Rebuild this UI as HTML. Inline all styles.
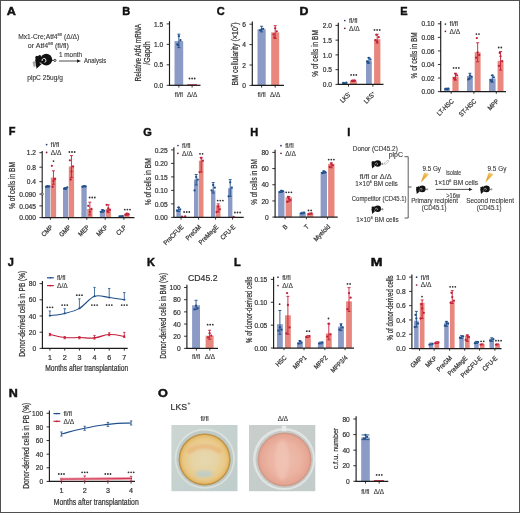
<!DOCTYPE html>
<html><head><meta charset="utf-8"><style>
html,body{margin:0;padding:0;background:#fff;}
svg{display:block;font-family:"Liberation Sans", sans-serif;will-change:transform;}
</style></head><body>
<svg width="520" height="513" viewBox="0 0 520 513">
<rect x="0.5" y="0.5" width="519" height="512" fill="#fff" stroke="#505050" stroke-width="1"/>
<text x="6.80" y="15.00" font-size="11" font-weight="bold" fill="#111" stroke="#111" stroke-width="0.45" transform="translate(6.80 0) scale(1.15 1) translate(-6.80 0)">A</text>
<text x="122.30" y="15.00" font-size="11" font-weight="bold" fill="#111" stroke="#111" stroke-width="0.45">B</text>
<text x="216.80" y="15.00" font-size="11" font-weight="bold" fill="#111" stroke="#111" stroke-width="0.45">C</text>
<text x="299.60" y="15.00" font-size="11" font-weight="bold" fill="#111" stroke="#111" stroke-width="0.45" transform="translate(299.60 0) scale(1.12 1) translate(-299.60 0)">D</text>
<text x="400.20" y="15.00" font-size="11" font-weight="bold" fill="#111" stroke="#111" stroke-width="0.45">E</text>
<text x="8.80" y="135.30" font-size="11" font-weight="bold" fill="#111" stroke="#111" stroke-width="0.45">F</text>
<text x="143.30" y="135.50" font-size="11" font-weight="bold" fill="#111" stroke="#111" stroke-width="0.45">G</text>
<text x="250.30" y="135.50" font-size="11" font-weight="bold" fill="#111" stroke="#111" stroke-width="0.45">H</text>
<text x="347.20" y="135.50" font-size="11" font-weight="bold" fill="#111" stroke="#111" stroke-width="0.45">I</text>
<text x="7.80" y="266.00" font-size="11" font-weight="bold" fill="#111" stroke="#111" stroke-width="0.45">J</text>
<text x="147.00" y="266.00" font-size="11" font-weight="bold" fill="#111" stroke="#111" stroke-width="0.45">K</text>
<text x="234.00" y="266.00" font-size="11" font-weight="bold" fill="#111" stroke="#111" stroke-width="0.45">L</text>
<text x="370.80" y="266.00" font-size="11" font-weight="bold" fill="#111" stroke="#111" stroke-width="0.45" transform="translate(370.80 0) scale(1.28 1) translate(-370.80 0)">M</text>
<text x="8.80" y="397.50" font-size="11" font-weight="bold" fill="#111" stroke="#111" stroke-width="0.45" transform="translate(8.80 0) scale(1.14 1) translate(-8.80 0)">N</text>
<text x="158.00" y="397.50" font-size="11" font-weight="bold" fill="#111" stroke="#111" stroke-width="0.45" transform="translate(158.00 0) scale(1.15 1) translate(-158.00 0)">O</text>
<text x="18.2" y="39.3" font-size="6.8" fill="#333333" stroke="#333333" stroke-width="0.1" textLength="61" lengthAdjust="spacingAndGlyphs">Mx1-Cre;Atf4<tspan font-size="3.6" dy="-2.9">fl/fl</tspan><tspan dy="2.9"> (Δ/Δ)</tspan></text>
<text x="27.8" y="47.6" font-size="6.8" fill="#333333" stroke="#333333" stroke-width="0.1" textLength="41" lengthAdjust="spacingAndGlyphs">or Atf4<tspan font-size="3.6" dy="-2.9">fl/fl</tspan><tspan dy="2.9"> (fl/fl)</tspan></text>
<g transform="translate(46.30 59.80) scale(1.0)"><path d="M-13.8 2.2 L-11.4 1.2 L-10.4 6.4 L-12.6 7.2 Z" fill="#a8a8a8"/><circle cx="0" cy="-0.2" r="5.9" fill="#111"/><ellipse cx="-7.6" cy="0.5" rx="3.4" ry="4.1" fill="#111"/><circle cx="-9.4" cy="-2.6" r="1.5" fill="#111"/><circle cx="-6.6" cy="-3.2" r="1.5" fill="#111"/><path d="M-10.8 2.3 L-3.8 3.4 L-9.8 8.9 Z" fill="#111"/><path d="M-4.2 1.2 A2.0 2.0 0 1 1 -1.8 2.6" stroke="#fff" stroke-width="0.9" fill="none"/><path d="M-6.6 3.0 L-4.8 3.8" stroke="#fff" stroke-width="0.8"/><path d="M5.4 0.6 L7.5 0.6" stroke="#111" stroke-width="0.9"/><circle cx="8.6" cy="0.6" r="1.1" fill="#fff" stroke="#111" stroke-width="0.8"/></g>
<text x="59.00" y="57.20" font-size="6.8" fill="#333333" stroke="#333333" stroke-width="0.11" textLength="23" lengthAdjust="spacingAndGlyphs">1 month</text>
<line x1="59.00" y1="61.00" x2="78.00" y2="61.00" stroke="#222" stroke-width="0.8"/>
<path d="M77 59.3 L81 61 L77 62.7 Z" fill="#222"/>
<text x="84.00" y="63.40" font-size="6.8" fill="#333333" stroke="#333333" stroke-width="0.11" textLength="22.2" lengthAdjust="spacingAndGlyphs">Analysis</text>
<text x="27.30" y="79.50" font-size="6.8" fill="#333333" stroke="#333333" stroke-width="0.11" textLength="35.6" lengthAdjust="spacingAndGlyphs">plpC 25ug/g</text>
<line x1="169.50" y1="21.20" x2="169.50" y2="85.80" stroke="#1c1c1c" stroke-width="1.15"/>
<line x1="166.70" y1="85.30" x2="169.50" y2="85.30" stroke="#1c1c1c" stroke-width="0.9"/>
<text x="163.20" y="87.96" font-size="7.4" fill="#333333" stroke="#333333" stroke-width="0.22" text-anchor="end" transform="translate(163.20 0) scale(0.9 1) translate(-163.20 0)">0.0</text>
<line x1="166.70" y1="64.83" x2="169.50" y2="64.83" stroke="#1c1c1c" stroke-width="0.9"/>
<text x="163.20" y="67.50" font-size="7.4" fill="#333333" stroke="#333333" stroke-width="0.22" text-anchor="end" transform="translate(163.20 0) scale(0.9 1) translate(-163.20 0)">0.5</text>
<line x1="166.70" y1="44.37" x2="169.50" y2="44.37" stroke="#1c1c1c" stroke-width="0.9"/>
<text x="163.20" y="47.03" font-size="7.4" fill="#333333" stroke="#333333" stroke-width="0.22" text-anchor="end" transform="translate(163.20 0) scale(0.9 1) translate(-163.20 0)">1.0</text>
<line x1="166.70" y1="23.90" x2="169.50" y2="23.90" stroke="#1c1c1c" stroke-width="0.9"/>
<text x="163.20" y="26.56" font-size="7.4" fill="#333333" stroke="#333333" stroke-width="0.22" text-anchor="end" transform="translate(163.20 0) scale(0.9 1) translate(-163.20 0)">1.5</text>
<rect x="174.50" y="41.09" width="8.70" height="44.21" fill="#8b9bc6"/>
<line x1="178.85" y1="47.64" x2="178.85" y2="34.13" stroke="#1f4f8b" stroke-width="0.9"/>
<line x1="177.35" y1="34.13" x2="180.35" y2="34.13" stroke="#1f4f8b" stroke-width="0.9"/>
<line x1="177.35" y1="47.64" x2="180.35" y2="47.64" stroke="#1f4f8b" stroke-width="0.9"/>
<circle cx="177.25" cy="44.37" r="1.15" fill="#1f4f8b"/>
<circle cx="180.45" cy="40.27" r="1.15" fill="#1f4f8b"/>
<circle cx="178.85" cy="36.18" r="1.15" fill="#1f4f8b"/>
<circle cx="178.05" cy="45.19" r="1.15" fill="#1f4f8b"/>
<rect x="187.20" y="84.28" width="9.80" height="1.02" fill="#c41e3a"/>
<line x1="169.00" y1="85.30" x2="200.50" y2="85.30" stroke="#1c1c1c" stroke-width="1.25"/>
<line x1="178.85" y1="85.30" x2="178.85" y2="87.50" stroke="#1c1c1c" stroke-width="0.9"/>
<line x1="192.10" y1="85.30" x2="192.10" y2="87.50" stroke="#1c1c1c" stroke-width="0.9"/>
<circle cx="189.50" cy="78.50" r="0.9" fill="#333"/>
<circle cx="192.10" cy="78.50" r="0.9" fill="#333"/>
<circle cx="194.70" cy="78.50" r="0.9" fill="#333"/>
<text x="178.85" y="96.70" font-size="6.4" fill="#333333" stroke="#333333" stroke-width="0.11" text-anchor="middle">fl/fl</text>
<text x="192.10" y="96.70" font-size="6.4" fill="#333333" stroke="#333333" stroke-width="0.11" text-anchor="middle">Δ/Δ</text>
<text x="140.59" y="52.70" font-size="8.3" fill="#333333" stroke="#333333" stroke-width="0.22" text-anchor="middle" textLength="57.5" lengthAdjust="spacingAndGlyphs" transform="rotate(-90 140.59 52.70)">Relative Atf4 mRNA</text>
<text x="149.99" y="53.10" font-size="8.3" fill="#333333" stroke="#333333" stroke-width="0.22" text-anchor="middle" textLength="23.5" lengthAdjust="spacingAndGlyphs" transform="rotate(-90 149.99 53.10)">/Gapdh</text>
<line x1="252.30" y1="21.50" x2="252.30" y2="85.90" stroke="#1c1c1c" stroke-width="1.15"/>
<line x1="249.50" y1="85.40" x2="252.30" y2="85.40" stroke="#1c1c1c" stroke-width="0.9"/>
<text x="246.00" y="88.06" font-size="7.4" fill="#333333" stroke="#333333" stroke-width="0.22" text-anchor="end" transform="translate(246.00 0) scale(0.9 1) translate(-246.00 0)">0</text>
<line x1="249.50" y1="65.00" x2="252.30" y2="65.00" stroke="#1c1c1c" stroke-width="0.9"/>
<text x="246.00" y="67.66" font-size="7.4" fill="#333333" stroke="#333333" stroke-width="0.22" text-anchor="end" transform="translate(246.00 0) scale(0.9 1) translate(-246.00 0)">2</text>
<line x1="249.50" y1="44.60" x2="252.30" y2="44.60" stroke="#1c1c1c" stroke-width="0.9"/>
<text x="246.00" y="47.26" font-size="7.4" fill="#333333" stroke="#333333" stroke-width="0.22" text-anchor="end" transform="translate(246.00 0) scale(0.9 1) translate(-246.00 0)">4</text>
<line x1="249.50" y1="24.20" x2="252.30" y2="24.20" stroke="#1c1c1c" stroke-width="0.9"/>
<text x="246.00" y="26.86" font-size="7.4" fill="#333333" stroke="#333333" stroke-width="0.22" text-anchor="end" transform="translate(246.00 0) scale(0.9 1) translate(-246.00 0)">6</text>
<rect x="257.50" y="29.30" width="8.20" height="56.10" fill="#8b9bc6"/>
<line x1="261.60" y1="31.85" x2="261.60" y2="26.24" stroke="#1f4f8b" stroke-width="0.9"/>
<line x1="260.10" y1="26.24" x2="263.10" y2="26.24" stroke="#1f4f8b" stroke-width="0.9"/>
<line x1="260.10" y1="31.85" x2="263.10" y2="31.85" stroke="#1f4f8b" stroke-width="0.9"/>
<circle cx="260.00" cy="30.32" r="1.15" fill="#1f4f8b"/>
<circle cx="263.20" cy="28.79" r="1.15" fill="#1f4f8b"/>
<circle cx="261.60" cy="29.30" r="1.15" fill="#1f4f8b"/>
<rect x="271.20" y="32.36" width="8.00" height="53.04" fill="#e8877d"/>
<line x1="275.20" y1="38.48" x2="275.20" y2="25.73" stroke="#c41e3a" stroke-width="0.9"/>
<line x1="273.70" y1="25.73" x2="276.70" y2="25.73" stroke="#c41e3a" stroke-width="0.9"/>
<line x1="273.70" y1="38.48" x2="276.70" y2="38.48" stroke="#c41e3a" stroke-width="0.9"/>
<circle cx="273.60" cy="34.40" r="1.15" fill="#c41e3a"/>
<circle cx="276.80" cy="31.34" r="1.15" fill="#c41e3a"/>
<circle cx="275.20" cy="28.28" r="1.15" fill="#c41e3a"/>
<circle cx="274.40" cy="37.46" r="1.15" fill="#c41e3a"/>
<line x1="251.80" y1="85.40" x2="284.00" y2="85.40" stroke="#1c1c1c" stroke-width="1.25"/>
<line x1="261.60" y1="85.40" x2="261.60" y2="87.60" stroke="#1c1c1c" stroke-width="0.9"/>
<line x1="275.20" y1="85.40" x2="275.20" y2="87.60" stroke="#1c1c1c" stroke-width="0.9"/>
<text x="261.60" y="96.70" font-size="6.4" fill="#333333" stroke="#333333" stroke-width="0.11" text-anchor="middle">fl/fl</text>
<text x="275.20" y="96.70" font-size="6.4" fill="#333333" stroke="#333333" stroke-width="0.11" text-anchor="middle">Δ/Δ</text>
<text x="238.29" y="54.0" font-size="8.3" fill="#333333" stroke="#333333" stroke-width="0.22" text-anchor="middle" textLength="63" lengthAdjust="spacingAndGlyphs" transform="rotate(-90 238.29 54.0)">BM cellularity (×10<tspan font-size="4.8" dy="-3">7</tspan><tspan dy="3">)</tspan></text>
<line x1="338.30" y1="22.70" x2="338.30" y2="84.90" stroke="#1c1c1c" stroke-width="1.15"/>
<line x1="335.50" y1="84.40" x2="338.30" y2="84.40" stroke="#1c1c1c" stroke-width="0.9"/>
<text x="332.00" y="87.06" font-size="7.4" fill="#333333" stroke="#333333" stroke-width="0.22" text-anchor="end" transform="translate(332.00 0) scale(0.9 1) translate(-332.00 0)">0.0</text>
<line x1="335.50" y1="69.65" x2="338.30" y2="69.65" stroke="#1c1c1c" stroke-width="0.9"/>
<text x="332.00" y="72.31" font-size="7.4" fill="#333333" stroke="#333333" stroke-width="0.22" text-anchor="end" transform="translate(332.00 0) scale(0.9 1) translate(-332.00 0)">0.5</text>
<line x1="335.50" y1="54.90" x2="338.30" y2="54.90" stroke="#1c1c1c" stroke-width="0.9"/>
<text x="332.00" y="57.56" font-size="7.4" fill="#333333" stroke="#333333" stroke-width="0.22" text-anchor="end" transform="translate(332.00 0) scale(0.9 1) translate(-332.00 0)">1.0</text>
<line x1="335.50" y1="40.15" x2="338.30" y2="40.15" stroke="#1c1c1c" stroke-width="0.9"/>
<text x="332.00" y="42.81" font-size="7.4" fill="#333333" stroke="#333333" stroke-width="0.22" text-anchor="end" transform="translate(332.00 0) scale(0.9 1) translate(-332.00 0)">1.5</text>
<line x1="335.50" y1="25.40" x2="338.30" y2="25.40" stroke="#1c1c1c" stroke-width="0.9"/>
<text x="332.00" y="28.06" font-size="7.4" fill="#333333" stroke="#333333" stroke-width="0.22" text-anchor="end" transform="translate(332.00 0) scale(0.9 1) translate(-332.00 0)">2.0</text>
<rect x="342.00" y="82.93" width="5.60" height="1.47" fill="#8b9bc6"/>
<circle cx="343.20" cy="82.93" r="1.15" fill="#1f4f8b"/>
<circle cx="346.40" cy="82.63" r="1.15" fill="#1f4f8b"/>
<circle cx="344.80" cy="83.22" r="1.15" fill="#1f4f8b"/>
<rect x="350.00" y="80.86" width="6.80" height="3.54" fill="#e8877d"/>
<line x1="353.40" y1="81.45" x2="353.40" y2="79.98" stroke="#c41e3a" stroke-width="0.9"/>
<line x1="351.90" y1="79.98" x2="354.90" y2="79.98" stroke="#c41e3a" stroke-width="0.9"/>
<line x1="351.90" y1="81.45" x2="354.90" y2="81.45" stroke="#c41e3a" stroke-width="0.9"/>
<circle cx="351.80" cy="80.86" r="1.15" fill="#c41e3a"/>
<circle cx="355.00" cy="80.57" r="1.15" fill="#c41e3a"/>
<circle cx="353.40" cy="81.16" r="1.15" fill="#c41e3a"/>
<rect x="366.00" y="60.51" width="5.80" height="23.90" fill="#8b9bc6"/>
<line x1="368.90" y1="63.16" x2="368.90" y2="57.85" stroke="#1f4f8b" stroke-width="0.9"/>
<line x1="367.40" y1="57.85" x2="370.40" y2="57.85" stroke="#1f4f8b" stroke-width="0.9"/>
<line x1="367.40" y1="63.16" x2="370.40" y2="63.16" stroke="#1f4f8b" stroke-width="0.9"/>
<circle cx="367.20" cy="61.39" r="1.15" fill="#1f4f8b"/>
<circle cx="370.40" cy="59.33" r="1.15" fill="#1f4f8b"/>
<circle cx="368.80" cy="57.85" r="1.15" fill="#1f4f8b"/>
<circle cx="368.00" cy="62.87" r="1.15" fill="#1f4f8b"/>
<rect x="374.10" y="39.27" width="6.30" height="45.14" fill="#e8877d"/>
<line x1="377.20" y1="43.10" x2="377.20" y2="34.25" stroke="#c41e3a" stroke-width="0.9"/>
<line x1="375.70" y1="34.25" x2="378.70" y2="34.25" stroke="#c41e3a" stroke-width="0.9"/>
<line x1="375.70" y1="43.10" x2="378.70" y2="43.10" stroke="#c41e3a" stroke-width="0.9"/>
<circle cx="375.50" cy="40.15" r="1.15" fill="#c41e3a"/>
<circle cx="378.70" cy="37.20" r="1.15" fill="#c41e3a"/>
<circle cx="377.10" cy="41.62" r="1.15" fill="#c41e3a"/>
<circle cx="376.30" cy="34.84" r="1.15" fill="#c41e3a"/>
<line x1="337.80" y1="84.40" x2="383.50" y2="84.40" stroke="#1c1c1c" stroke-width="1.25"/>
<line x1="348.50" y1="84.40" x2="348.50" y2="86.60" stroke="#1c1c1c" stroke-width="0.9"/>
<line x1="372.90" y1="84.40" x2="372.90" y2="86.60" stroke="#1c1c1c" stroke-width="0.9"/>
<circle cx="351.10" cy="74.90" r="0.9" fill="#333"/>
<circle cx="353.70" cy="74.90" r="0.9" fill="#333"/>
<circle cx="356.30" cy="74.90" r="0.9" fill="#333"/>
<circle cx="374.50" cy="29.90" r="0.9" fill="#333"/>
<circle cx="377.10" cy="29.90" r="0.9" fill="#333"/>
<circle cx="379.70" cy="29.90" r="0.9" fill="#333"/>
<circle cx="344.80" cy="20.50" r="0.85" fill="#1d3a62"/>
<text x="349.00" y="22.88" font-size="6.6" fill="#333333" stroke="#333333" stroke-width="0.11">fl/fl</text>
<circle cx="344.80" cy="28.30" r="0.85" fill="#7a1a2c"/>
<text x="349.00" y="30.68" font-size="6.6" fill="#333333" stroke="#333333" stroke-width="0.11">Δ/Δ</text>
<text x="351.50" y="94.50" font-size="6.6" fill="#333333" stroke="#333333" stroke-width="0.22" text-anchor="end" transform="rotate(-45 351.50 94.50) translate(351.50 0) scale(0.9 1) translate(-351.50 0)">LKS<tspan font-size="4" dy="-2.5">-</tspan></text>
<text x="375.90" y="94.50" font-size="6.6" fill="#333333" stroke="#333333" stroke-width="0.22" text-anchor="end" transform="rotate(-45 375.90 94.50) translate(375.90 0) scale(0.9 1) translate(-375.90 0)">LKS<tspan font-size="4" dy="-2.5">+</tspan></text>
<text x="318.49" y="53.40" font-size="8.3" fill="#333333" stroke="#333333" stroke-width="0.22" text-anchor="middle" textLength="46.5" lengthAdjust="spacingAndGlyphs" transform="rotate(-90 318.49 53.40)">% of cells in BM</text>
<line x1="440.70" y1="21.10" x2="440.70" y2="92.10" stroke="#1c1c1c" stroke-width="1.15"/>
<line x1="437.90" y1="91.60" x2="440.70" y2="91.60" stroke="#1c1c1c" stroke-width="0.9"/>
<text x="434.40" y="94.26" font-size="7.4" fill="#333333" stroke="#333333" stroke-width="0.22" text-anchor="end" transform="translate(434.40 0) scale(0.9 1) translate(-434.40 0)">0.00</text>
<line x1="437.90" y1="78.04" x2="440.70" y2="78.04" stroke="#1c1c1c" stroke-width="0.9"/>
<text x="434.40" y="80.70" font-size="7.4" fill="#333333" stroke="#333333" stroke-width="0.22" text-anchor="end" transform="translate(434.40 0) scale(0.9 1) translate(-434.40 0)">0.02</text>
<line x1="437.90" y1="64.48" x2="440.70" y2="64.48" stroke="#1c1c1c" stroke-width="0.9"/>
<text x="434.40" y="67.14" font-size="7.4" fill="#333333" stroke="#333333" stroke-width="0.22" text-anchor="end" transform="translate(434.40 0) scale(0.9 1) translate(-434.40 0)">0.04</text>
<line x1="437.90" y1="50.92" x2="440.70" y2="50.92" stroke="#1c1c1c" stroke-width="0.9"/>
<text x="434.40" y="53.58" font-size="7.4" fill="#333333" stroke="#333333" stroke-width="0.22" text-anchor="end" transform="translate(434.40 0) scale(0.9 1) translate(-434.40 0)">0.06</text>
<line x1="437.90" y1="37.36" x2="440.70" y2="37.36" stroke="#1c1c1c" stroke-width="0.9"/>
<text x="434.40" y="40.02" font-size="7.4" fill="#333333" stroke="#333333" stroke-width="0.22" text-anchor="end" transform="translate(434.40 0) scale(0.9 1) translate(-434.40 0)">0.08</text>
<line x1="437.90" y1="23.80" x2="440.70" y2="23.80" stroke="#1c1c1c" stroke-width="0.9"/>
<text x="434.40" y="26.46" font-size="7.4" fill="#333333" stroke="#333333" stroke-width="0.22" text-anchor="end" transform="translate(434.40 0) scale(0.9 1) translate(-434.40 0)">0.10</text>
<rect x="444.00" y="88.89" width="5.80" height="2.71" fill="#8b9bc6"/>
<line x1="446.90" y1="89.57" x2="446.90" y2="88.21" stroke="#1f4f8b" stroke-width="0.9"/>
<line x1="445.40" y1="88.21" x2="448.40" y2="88.21" stroke="#1f4f8b" stroke-width="0.9"/>
<line x1="445.40" y1="89.57" x2="448.40" y2="89.57" stroke="#1f4f8b" stroke-width="0.9"/>
<circle cx="445.30" cy="88.89" r="1.15" fill="#1f4f8b"/>
<circle cx="448.50" cy="88.55" r="1.15" fill="#1f4f8b"/>
<circle cx="446.90" cy="89.23" r="1.15" fill="#1f4f8b"/>
<rect x="452.40" y="76.68" width="6.20" height="14.92" fill="#e8877d"/>
<line x1="455.50" y1="80.07" x2="455.50" y2="73.29" stroke="#c41e3a" stroke-width="0.9"/>
<line x1="454.00" y1="73.29" x2="457.00" y2="73.29" stroke="#c41e3a" stroke-width="0.9"/>
<line x1="454.00" y1="80.07" x2="457.00" y2="80.07" stroke="#c41e3a" stroke-width="0.9"/>
<circle cx="453.90" cy="78.04" r="1.15" fill="#c41e3a"/>
<circle cx="457.10" cy="75.33" r="1.15" fill="#c41e3a"/>
<circle cx="455.50" cy="73.97" r="1.15" fill="#c41e3a"/>
<circle cx="454.70" cy="79.40" r="1.15" fill="#c41e3a"/>
<rect x="467.00" y="76.01" width="5.80" height="15.59" fill="#8b9bc6"/>
<line x1="469.90" y1="78.72" x2="469.90" y2="73.29" stroke="#1f4f8b" stroke-width="0.9"/>
<line x1="468.40" y1="73.29" x2="471.40" y2="73.29" stroke="#1f4f8b" stroke-width="0.9"/>
<line x1="468.40" y1="78.72" x2="471.40" y2="78.72" stroke="#1f4f8b" stroke-width="0.9"/>
<circle cx="468.30" cy="79.40" r="1.15" fill="#1f4f8b"/>
<circle cx="471.50" cy="76.68" r="1.15" fill="#1f4f8b"/>
<circle cx="469.90" cy="75.33" r="1.15" fill="#1f4f8b"/>
<circle cx="469.10" cy="78.72" r="1.15" fill="#1f4f8b"/>
<rect x="474.70" y="52.28" width="5.90" height="39.32" fill="#e8877d"/>
<line x1="477.65" y1="61.77" x2="477.65" y2="42.78" stroke="#c41e3a" stroke-width="0.9"/>
<line x1="476.15" y1="42.78" x2="479.15" y2="42.78" stroke="#c41e3a" stroke-width="0.9"/>
<line x1="476.15" y1="61.77" x2="479.15" y2="61.77" stroke="#c41e3a" stroke-width="0.9"/>
<circle cx="476.05" cy="57.70" r="1.15" fill="#c41e3a"/>
<circle cx="479.25" cy="54.99" r="1.15" fill="#c41e3a"/>
<circle cx="477.65" cy="52.28" r="1.15" fill="#c41e3a"/>
<circle cx="476.85" cy="38.04" r="1.15" fill="#c41e3a"/>
<rect x="489.00" y="78.72" width="6.60" height="12.88" fill="#8b9bc6"/>
<line x1="492.30" y1="82.11" x2="492.30" y2="75.33" stroke="#1f4f8b" stroke-width="0.9"/>
<line x1="490.80" y1="75.33" x2="493.80" y2="75.33" stroke="#1f4f8b" stroke-width="0.9"/>
<line x1="490.80" y1="82.11" x2="493.80" y2="82.11" stroke="#1f4f8b" stroke-width="0.9"/>
<circle cx="490.70" cy="80.07" r="1.15" fill="#1f4f8b"/>
<circle cx="493.90" cy="77.36" r="1.15" fill="#1f4f8b"/>
<circle cx="492.30" cy="75.33" r="1.15" fill="#1f4f8b"/>
<circle cx="491.50" cy="81.43" r="1.15" fill="#1f4f8b"/>
<rect x="497.60" y="60.82" width="5.90" height="30.78" fill="#e8877d"/>
<line x1="500.55" y1="70.04" x2="500.55" y2="51.60" stroke="#c41e3a" stroke-width="0.9"/>
<line x1="499.05" y1="51.60" x2="502.05" y2="51.60" stroke="#c41e3a" stroke-width="0.9"/>
<line x1="499.05" y1="70.04" x2="502.05" y2="70.04" stroke="#c41e3a" stroke-width="0.9"/>
<circle cx="498.95" cy="65.84" r="1.15" fill="#c41e3a"/>
<circle cx="502.15" cy="61.09" r="1.15" fill="#c41e3a"/>
<circle cx="500.55" cy="56.34" r="1.15" fill="#c41e3a"/>
<circle cx="499.75" cy="52.95" r="1.15" fill="#c41e3a"/>
<line x1="440.20" y1="91.60" x2="506.00" y2="91.60" stroke="#1c1c1c" stroke-width="1.25"/>
<line x1="451.20" y1="91.60" x2="451.20" y2="93.80" stroke="#1c1c1c" stroke-width="0.9"/>
<line x1="473.90" y1="91.60" x2="473.90" y2="93.80" stroke="#1c1c1c" stroke-width="0.9"/>
<line x1="496.30" y1="91.60" x2="496.30" y2="93.80" stroke="#1c1c1c" stroke-width="0.9"/>
<circle cx="453.60" cy="67.90" r="0.9" fill="#333"/>
<circle cx="456.20" cy="67.90" r="0.9" fill="#333"/>
<circle cx="458.80" cy="67.90" r="0.9" fill="#333"/>
<circle cx="476.40" cy="34.10" r="0.9" fill="#333"/>
<circle cx="479.00" cy="34.10" r="0.9" fill="#333"/>
<circle cx="498.70" cy="47.50" r="0.9" fill="#333"/>
<circle cx="501.30" cy="47.50" r="0.9" fill="#333"/>
<circle cx="445.40" cy="24.10" r="0.85" fill="#1d3a62"/>
<text x="449.60" y="26.48" font-size="6.6" fill="#333333" stroke="#333333" stroke-width="0.11">fl/fl</text>
<circle cx="445.40" cy="31.30" r="0.85" fill="#7a1a2c"/>
<text x="449.60" y="33.68" font-size="6.6" fill="#333333" stroke="#333333" stroke-width="0.11">Δ/Δ</text>
<text x="454.20" y="101.70" font-size="6.6" fill="#333333" stroke="#333333" stroke-width="0.22" text-anchor="end" transform="rotate(-45 454.20 101.70) translate(454.20 0) scale(0.9 1) translate(-454.20 0)">LT-HSC</text>
<text x="476.90" y="101.70" font-size="6.6" fill="#333333" stroke="#333333" stroke-width="0.22" text-anchor="end" transform="rotate(-45 476.90 101.70) translate(476.90 0) scale(0.9 1) translate(-476.90 0)">ST-HSC</text>
<text x="499.30" y="101.70" font-size="6.6" fill="#333333" stroke="#333333" stroke-width="0.22" text-anchor="end" transform="rotate(-45 499.30 101.70) translate(499.30 0) scale(0.9 1) translate(-499.30 0)">MPP</text>
<text x="416.89" y="55.40" font-size="8.3" fill="#333333" stroke="#333333" stroke-width="0.22" text-anchor="middle" textLength="46" lengthAdjust="spacingAndGlyphs" transform="rotate(-90 416.89 55.40)">% of cells in BM</text>
<line x1="42.20" y1="151.00" x2="42.20" y2="218.10" stroke="#1c1c1c" stroke-width="1.1"/>
<line x1="39.40" y1="217.60" x2="42.20" y2="217.60" stroke="#1c1c1c" stroke-width="0.9"/>
<text x="36.00" y="220.26" font-size="7.4" fill="#333333" stroke="#333333" stroke-width="0.22" text-anchor="end" transform="translate(36.00 0) scale(0.9 1) translate(-36.00 0)">0.000</text>
<line x1="39.40" y1="205.90" x2="42.20" y2="205.90" stroke="#1c1c1c" stroke-width="0.9"/>
<text x="36.00" y="208.56" font-size="7.4" fill="#333333" stroke="#333333" stroke-width="0.22" text-anchor="end" transform="translate(36.00 0) scale(0.9 1) translate(-36.00 0)">0.045</text>
<line x1="39.40" y1="194.10" x2="42.20" y2="194.10" stroke="#1c1c1c" stroke-width="0.9"/>
<text x="36.00" y="196.76" font-size="7.4" fill="#333333" stroke="#333333" stroke-width="0.22" text-anchor="end" transform="translate(36.00 0) scale(0.9 1) translate(-36.00 0)">0.090</text>
<line x1="39.40" y1="181.70" x2="42.20" y2="181.70" stroke="#1c1c1c" stroke-width="0.9"/>
<text x="36.00" y="184.36" font-size="7.4" fill="#333333" stroke="#333333" stroke-width="0.22" text-anchor="end" transform="translate(36.00 0) scale(0.9 1) translate(-36.00 0)">0.4</text>
<line x1="39.40" y1="167.20" x2="42.20" y2="167.20" stroke="#1c1c1c" stroke-width="0.9"/>
<text x="36.00" y="169.86" font-size="7.4" fill="#333333" stroke="#333333" stroke-width="0.22" text-anchor="end" transform="translate(36.00 0) scale(0.9 1) translate(-36.00 0)">0.8</text>
<line x1="39.40" y1="152.70" x2="42.20" y2="152.70" stroke="#1c1c1c" stroke-width="0.9"/>
<text x="36.00" y="155.36" font-size="7.4" fill="#333333" stroke="#333333" stroke-width="0.22" text-anchor="end" transform="translate(36.00 0) scale(0.9 1) translate(-36.00 0)">1.2</text>
<circle cx="42.2" cy="194.1" r="1.1" fill="#fff" stroke="#1c1c1c" stroke-width="0.7"/>
<rect x="45.00" y="186.52" width="5.30" height="31.08" fill="#8b9bc6"/>
<line x1="47.65" y1="187.14" x2="47.65" y2="186.05" stroke="#1f4f8b" stroke-width="0.9"/>
<line x1="46.15" y1="186.05" x2="49.15" y2="186.05" stroke="#1f4f8b" stroke-width="0.9"/>
<line x1="46.15" y1="187.14" x2="49.15" y2="187.14" stroke="#1f4f8b" stroke-width="0.9"/>
<circle cx="46.05" cy="186.77" r="1.15" fill="#1f4f8b"/>
<circle cx="49.25" cy="186.41" r="1.15" fill="#1f4f8b"/>
<circle cx="47.65" cy="186.05" r="1.15" fill="#1f4f8b"/>
<rect x="50.80" y="177.57" width="5.30" height="40.03" fill="#e8877d"/>
<line x1="53.45" y1="184.24" x2="53.45" y2="170.82" stroke="#c41e3a" stroke-width="0.9"/>
<line x1="51.95" y1="170.82" x2="54.95" y2="170.82" stroke="#c41e3a" stroke-width="0.9"/>
<line x1="51.95" y1="184.24" x2="54.95" y2="184.24" stroke="#c41e3a" stroke-width="0.9"/>
<circle cx="51.85" cy="165.82" r="1.15" fill="#c41e3a"/>
<circle cx="55.05" cy="178.98" r="1.15" fill="#c41e3a"/>
<circle cx="53.45" cy="180.97" r="1.15" fill="#c41e3a"/>
<circle cx="52.65" cy="186.77" r="1.15" fill="#c41e3a"/>
<line x1="50.40" y1="217.60" x2="50.40" y2="219.80" stroke="#1c1c1c" stroke-width="0.9"/>
<rect x="63.00" y="188.59" width="5.30" height="29.01" fill="#8b9bc6"/>
<line x1="65.65" y1="188.95" x2="65.65" y2="187.50" stroke="#1f4f8b" stroke-width="0.9"/>
<line x1="64.15" y1="187.50" x2="67.15" y2="187.50" stroke="#1f4f8b" stroke-width="0.9"/>
<line x1="64.15" y1="188.95" x2="67.15" y2="188.95" stroke="#1f4f8b" stroke-width="0.9"/>
<circle cx="64.05" cy="188.59" r="1.15" fill="#1f4f8b"/>
<circle cx="67.25" cy="187.50" r="1.15" fill="#1f4f8b"/>
<circle cx="65.65" cy="188.95" r="1.15" fill="#1f4f8b"/>
<rect x="68.80" y="166.47" width="5.30" height="51.12" fill="#e8877d"/>
<line x1="71.45" y1="177.35" x2="71.45" y2="155.60" stroke="#c41e3a" stroke-width="0.9"/>
<line x1="69.95" y1="155.60" x2="72.95" y2="155.60" stroke="#c41e3a" stroke-width="0.9"/>
<line x1="69.95" y1="177.35" x2="72.95" y2="177.35" stroke="#c41e3a" stroke-width="0.9"/>
<circle cx="69.85" cy="160.31" r="1.15" fill="#c41e3a"/>
<circle cx="73.05" cy="166.47" r="1.15" fill="#c41e3a"/>
<circle cx="71.45" cy="171.55" r="1.15" fill="#c41e3a"/>
<circle cx="70.65" cy="179.52" r="1.15" fill="#c41e3a"/>
<line x1="68.40" y1="217.60" x2="68.40" y2="219.80" stroke="#1c1c1c" stroke-width="0.9"/>
<rect x="81.40" y="186.41" width="5.30" height="31.19" fill="#8b9bc6"/>
<line x1="84.05" y1="186.77" x2="84.05" y2="186.05" stroke="#1f4f8b" stroke-width="0.9"/>
<line x1="82.55" y1="186.05" x2="85.55" y2="186.05" stroke="#1f4f8b" stroke-width="0.9"/>
<line x1="82.55" y1="186.77" x2="85.55" y2="186.77" stroke="#1f4f8b" stroke-width="0.9"/>
<circle cx="82.45" cy="186.77" r="1.15" fill="#1f4f8b"/>
<circle cx="85.65" cy="186.41" r="1.15" fill="#1f4f8b"/>
<circle cx="84.05" cy="186.05" r="1.15" fill="#1f4f8b"/>
<rect x="87.20" y="208.98" width="5.30" height="8.62" fill="#e8877d"/>
<line x1="89.85" y1="214.99" x2="89.85" y2="202.19" stroke="#c41e3a" stroke-width="0.9"/>
<line x1="88.35" y1="202.19" x2="91.35" y2="202.19" stroke="#c41e3a" stroke-width="0.9"/>
<line x1="88.35" y1="214.99" x2="91.35" y2="214.99" stroke="#c41e3a" stroke-width="0.9"/>
<circle cx="88.25" cy="205.85" r="1.15" fill="#c41e3a"/>
<circle cx="91.45" cy="208.98" r="1.15" fill="#c41e3a"/>
<circle cx="89.85" cy="211.86" r="1.15" fill="#c41e3a"/>
<line x1="86.80" y1="217.60" x2="86.80" y2="219.80" stroke="#1c1c1c" stroke-width="0.9"/>
<rect x="99.80" y="211.07" width="5.30" height="6.53" fill="#8b9bc6"/>
<line x1="102.45" y1="212.38" x2="102.45" y2="209.77" stroke="#1f4f8b" stroke-width="0.9"/>
<line x1="100.95" y1="209.77" x2="103.95" y2="209.77" stroke="#1f4f8b" stroke-width="0.9"/>
<line x1="100.95" y1="212.38" x2="103.95" y2="212.38" stroke="#1f4f8b" stroke-width="0.9"/>
<circle cx="100.85" cy="211.86" r="1.15" fill="#1f4f8b"/>
<circle cx="104.05" cy="210.81" r="1.15" fill="#1f4f8b"/>
<circle cx="102.45" cy="210.03" r="1.15" fill="#1f4f8b"/>
<rect x="105.60" y="208.98" width="5.30" height="8.62" fill="#e8877d"/>
<line x1="108.25" y1="212.38" x2="108.25" y2="204.81" stroke="#c41e3a" stroke-width="0.9"/>
<line x1="106.75" y1="204.81" x2="109.75" y2="204.81" stroke="#c41e3a" stroke-width="0.9"/>
<line x1="106.75" y1="212.38" x2="109.75" y2="212.38" stroke="#c41e3a" stroke-width="0.9"/>
<circle cx="106.65" cy="204.81" r="1.15" fill="#c41e3a"/>
<circle cx="109.85" cy="209.77" r="1.15" fill="#c41e3a"/>
<circle cx="108.25" cy="208.46" r="1.15" fill="#c41e3a"/>
<circle cx="107.45" cy="211.07" r="1.15" fill="#c41e3a"/>
<line x1="105.20" y1="217.60" x2="105.20" y2="219.80" stroke="#1c1c1c" stroke-width="0.9"/>
<rect x="118.50" y="216.29" width="5.30" height="1.31" fill="#8b9bc6"/>
<line x1="121.15" y1="216.56" x2="121.15" y2="215.77" stroke="#1f4f8b" stroke-width="0.9"/>
<line x1="119.65" y1="215.77" x2="122.65" y2="215.77" stroke="#1f4f8b" stroke-width="0.9"/>
<line x1="119.65" y1="216.56" x2="122.65" y2="216.56" stroke="#1f4f8b" stroke-width="0.9"/>
<circle cx="119.55" cy="216.29" r="1.15" fill="#1f4f8b"/>
<circle cx="122.75" cy="216.03" r="1.15" fill="#1f4f8b"/>
<rect x="124.30" y="214.21" width="5.30" height="3.39" fill="#e8877d"/>
<line x1="126.95" y1="215.25" x2="126.95" y2="213.42" stroke="#c41e3a" stroke-width="0.9"/>
<line x1="125.45" y1="213.42" x2="128.45" y2="213.42" stroke="#c41e3a" stroke-width="0.9"/>
<line x1="125.45" y1="215.25" x2="128.45" y2="215.25" stroke="#c41e3a" stroke-width="0.9"/>
<circle cx="125.35" cy="214.73" r="1.15" fill="#c41e3a"/>
<circle cx="128.55" cy="214.21" r="1.15" fill="#c41e3a"/>
<circle cx="126.95" cy="213.68" r="1.15" fill="#c41e3a"/>
<line x1="123.90" y1="217.60" x2="123.90" y2="219.80" stroke="#1c1c1c" stroke-width="0.9"/>
<line x1="41.70" y1="217.60" x2="134.50" y2="217.60" stroke="#1c1c1c" stroke-width="1.25"/>
<circle cx="53.50" cy="161.10" r="0.9" fill="#333"/>
<circle cx="69.40" cy="152.00" r="0.9" fill="#333"/>
<circle cx="72.00" cy="152.00" r="0.9" fill="#333"/>
<circle cx="74.60" cy="152.00" r="0.9" fill="#333"/>
<circle cx="89.60" cy="197.50" r="0.9" fill="#333"/>
<circle cx="92.20" cy="197.50" r="0.9" fill="#333"/>
<circle cx="94.80" cy="197.50" r="0.9" fill="#333"/>
<circle cx="124.80" cy="209.60" r="0.9" fill="#333"/>
<circle cx="127.40" cy="209.60" r="0.9" fill="#333"/>
<circle cx="130.00" cy="209.60" r="0.9" fill="#333"/>
<circle cx="46.60" cy="144.60" r="0.85" fill="#1d3a62"/>
<text x="50.80" y="146.98" font-size="6.6" fill="#333333" stroke="#333333" stroke-width="0.11">fl/fl</text>
<circle cx="46.60" cy="152.40" r="0.85" fill="#7a1a2c"/>
<text x="50.80" y="154.78" font-size="6.6" fill="#333333" stroke="#333333" stroke-width="0.11">Δ/Δ</text>
<text x="53.40" y="227.70" font-size="6.6" fill="#333333" stroke="#333333" stroke-width="0.22" text-anchor="end" transform="rotate(-45 53.40 227.70) translate(53.40 0) scale(0.9 1) translate(-53.40 0)">CMP</text>
<text x="71.40" y="227.70" font-size="6.6" fill="#333333" stroke="#333333" stroke-width="0.22" text-anchor="end" transform="rotate(-45 71.40 227.70) translate(71.40 0) scale(0.9 1) translate(-71.40 0)">GMP</text>
<text x="89.80" y="227.70" font-size="6.6" fill="#333333" stroke="#333333" stroke-width="0.22" text-anchor="end" transform="rotate(-45 89.80 227.70) translate(89.80 0) scale(0.9 1) translate(-89.80 0)">MEP</text>
<text x="108.20" y="227.70" font-size="6.6" fill="#333333" stroke="#333333" stroke-width="0.22" text-anchor="end" transform="rotate(-45 108.20 227.70) translate(108.20 0) scale(0.9 1) translate(-108.20 0)">MKP</text>
<text x="126.90" y="227.70" font-size="6.6" fill="#333333" stroke="#333333" stroke-width="0.22" text-anchor="end" transform="rotate(-45 126.90 227.70) translate(126.90 0) scale(0.9 1) translate(-126.90 0)">CLP</text>
<text x="15.29" y="185.50" font-size="8.3" fill="#333333" stroke="#333333" stroke-width="0.22" text-anchor="middle" textLength="47" lengthAdjust="spacingAndGlyphs" transform="rotate(-90 15.29 185.50)">% of cells in BM</text>
<line x1="173.90" y1="147.20" x2="173.90" y2="217.90" stroke="#1c1c1c" stroke-width="1.15"/>
<line x1="171.10" y1="217.40" x2="173.90" y2="217.40" stroke="#1c1c1c" stroke-width="0.9"/>
<text x="167.60" y="220.06" font-size="7.4" fill="#333333" stroke="#333333" stroke-width="0.22" text-anchor="end" transform="translate(167.60 0) scale(0.9 1) translate(-167.60 0)">0.00</text>
<line x1="171.10" y1="203.90" x2="173.90" y2="203.90" stroke="#1c1c1c" stroke-width="0.9"/>
<text x="167.60" y="206.56" font-size="7.4" fill="#333333" stroke="#333333" stroke-width="0.22" text-anchor="end" transform="translate(167.60 0) scale(0.9 1) translate(-167.60 0)">0.05</text>
<line x1="171.10" y1="190.40" x2="173.90" y2="190.40" stroke="#1c1c1c" stroke-width="0.9"/>
<text x="167.60" y="193.06" font-size="7.4" fill="#333333" stroke="#333333" stroke-width="0.22" text-anchor="end" transform="translate(167.60 0) scale(0.9 1) translate(-167.60 0)">0.10</text>
<line x1="171.10" y1="176.90" x2="173.90" y2="176.90" stroke="#1c1c1c" stroke-width="0.9"/>
<text x="167.60" y="179.56" font-size="7.4" fill="#333333" stroke="#333333" stroke-width="0.22" text-anchor="end" transform="translate(167.60 0) scale(0.9 1) translate(-167.60 0)">0.15</text>
<line x1="171.10" y1="163.40" x2="173.90" y2="163.40" stroke="#1c1c1c" stroke-width="0.9"/>
<text x="167.60" y="166.06" font-size="7.4" fill="#333333" stroke="#333333" stroke-width="0.22" text-anchor="end" transform="translate(167.60 0) scale(0.9 1) translate(-167.60 0)">0.20</text>
<line x1="171.10" y1="149.90" x2="173.90" y2="149.90" stroke="#1c1c1c" stroke-width="0.9"/>
<text x="167.60" y="152.56" font-size="7.4" fill="#333333" stroke="#333333" stroke-width="0.22" text-anchor="end" transform="translate(167.60 0) scale(0.9 1) translate(-167.60 0)">0.25</text>
<rect x="176.40" y="209.30" width="4.40" height="8.10" fill="#8b9bc6"/>
<line x1="178.60" y1="211.46" x2="178.60" y2="207.41" stroke="#1f4f8b" stroke-width="0.9"/>
<line x1="177.10" y1="207.41" x2="180.10" y2="207.41" stroke="#1f4f8b" stroke-width="0.9"/>
<line x1="177.10" y1="211.46" x2="180.10" y2="211.46" stroke="#1f4f8b" stroke-width="0.9"/>
<circle cx="177.00" cy="210.65" r="1.15" fill="#1f4f8b"/>
<circle cx="180.20" cy="209.30" r="1.15" fill="#1f4f8b"/>
<circle cx="178.60" cy="207.41" r="1.15" fill="#1f4f8b"/>
<rect x="181.30" y="216.32" width="4.60" height="1.08" fill="#e8877d"/>
<circle cx="182.00" cy="216.59" r="1.15" fill="#c41e3a"/>
<circle cx="185.20" cy="216.32" r="1.15" fill="#c41e3a"/>
<line x1="181.00" y1="217.40" x2="181.00" y2="219.60" stroke="#1c1c1c" stroke-width="0.9"/>
<rect x="194.00" y="179.60" width="4.40" height="37.80" fill="#8b9bc6"/>
<line x1="196.20" y1="185.00" x2="196.20" y2="174.47" stroke="#1f4f8b" stroke-width="0.9"/>
<line x1="194.70" y1="174.47" x2="197.70" y2="174.47" stroke="#1f4f8b" stroke-width="0.9"/>
<line x1="194.70" y1="185.00" x2="197.70" y2="185.00" stroke="#1f4f8b" stroke-width="0.9"/>
<circle cx="194.60" cy="190.40" r="1.15" fill="#1f4f8b"/>
<circle cx="197.80" cy="179.60" r="1.15" fill="#1f4f8b"/>
<circle cx="196.20" cy="176.90" r="1.15" fill="#1f4f8b"/>
<rect x="198.90" y="160.70" width="4.60" height="56.70" fill="#e8877d"/>
<line x1="201.20" y1="172.04" x2="201.20" y2="157.46" stroke="#c41e3a" stroke-width="0.9"/>
<line x1="199.70" y1="157.46" x2="202.70" y2="157.46" stroke="#c41e3a" stroke-width="0.9"/>
<line x1="199.70" y1="172.04" x2="202.70" y2="172.04" stroke="#c41e3a" stroke-width="0.9"/>
<circle cx="199.60" cy="172.04" r="1.15" fill="#c41e3a"/>
<circle cx="202.80" cy="160.70" r="1.15" fill="#c41e3a"/>
<circle cx="201.20" cy="158.00" r="1.15" fill="#c41e3a"/>
<line x1="198.60" y1="217.40" x2="198.60" y2="219.60" stroke="#1c1c1c" stroke-width="0.9"/>
<rect x="211.00" y="190.40" width="4.40" height="27.00" fill="#8b9bc6"/>
<line x1="213.20" y1="193.10" x2="213.20" y2="182.57" stroke="#1f4f8b" stroke-width="0.9"/>
<line x1="211.70" y1="182.57" x2="214.70" y2="182.57" stroke="#1f4f8b" stroke-width="0.9"/>
<line x1="211.70" y1="193.10" x2="214.70" y2="193.10" stroke="#1f4f8b" stroke-width="0.9"/>
<circle cx="211.60" cy="190.40" r="1.15" fill="#1f4f8b"/>
<circle cx="214.80" cy="187.70" r="1.15" fill="#1f4f8b"/>
<circle cx="213.20" cy="185.00" r="1.15" fill="#1f4f8b"/>
<rect x="215.90" y="205.25" width="4.60" height="12.15" fill="#e8877d"/>
<line x1="218.20" y1="212.00" x2="218.20" y2="203.90" stroke="#c41e3a" stroke-width="0.9"/>
<line x1="216.70" y1="203.90" x2="219.70" y2="203.90" stroke="#c41e3a" stroke-width="0.9"/>
<line x1="216.70" y1="212.00" x2="219.70" y2="212.00" stroke="#c41e3a" stroke-width="0.9"/>
<circle cx="216.60" cy="212.00" r="1.15" fill="#c41e3a"/>
<circle cx="219.80" cy="209.30" r="1.15" fill="#c41e3a"/>
<circle cx="218.20" cy="206.60" r="1.15" fill="#c41e3a"/>
<line x1="215.60" y1="217.40" x2="215.60" y2="219.60" stroke="#1c1c1c" stroke-width="0.9"/>
<rect x="228.00" y="188.24" width="4.40" height="29.16" fill="#8b9bc6"/>
<line x1="230.20" y1="196.34" x2="230.20" y2="179.60" stroke="#1f4f8b" stroke-width="0.9"/>
<line x1="228.70" y1="179.60" x2="231.70" y2="179.60" stroke="#1f4f8b" stroke-width="0.9"/>
<line x1="228.70" y1="196.34" x2="231.70" y2="196.34" stroke="#1f4f8b" stroke-width="0.9"/>
<circle cx="228.60" cy="196.34" r="1.15" fill="#1f4f8b"/>
<circle cx="231.80" cy="187.70" r="1.15" fill="#1f4f8b"/>
<circle cx="230.20" cy="182.30" r="1.15" fill="#1f4f8b"/>
<rect x="232.90" y="216.86" width="4.60" height="0.54" fill="#e8877d"/>
<circle cx="233.60" cy="216.86" r="1.15" fill="#c41e3a"/>
<line x1="232.60" y1="217.40" x2="232.60" y2="219.60" stroke="#1c1c1c" stroke-width="0.9"/>
<line x1="173.40" y1="217.40" x2="243.70" y2="217.40" stroke="#1c1c1c" stroke-width="1.25"/>
<circle cx="184.10" cy="212.00" r="0.9" fill="#333"/>
<circle cx="186.70" cy="212.00" r="0.9" fill="#333"/>
<circle cx="189.30" cy="212.00" r="0.9" fill="#333"/>
<circle cx="200.00" cy="153.80" r="0.9" fill="#333"/>
<circle cx="202.60" cy="153.80" r="0.9" fill="#333"/>
<circle cx="217.70" cy="200.60" r="0.9" fill="#333"/>
<circle cx="220.30" cy="200.60" r="0.9" fill="#333"/>
<circle cx="222.90" cy="200.60" r="0.9" fill="#333"/>
<circle cx="234.90" cy="212.50" r="0.9" fill="#333"/>
<circle cx="237.50" cy="212.50" r="0.9" fill="#333"/>
<circle cx="240.10" cy="212.50" r="0.9" fill="#333"/>
<circle cx="177.90" cy="145.50" r="0.85" fill="#1d3a62"/>
<text x="182.10" y="147.88" font-size="6.6" fill="#333333" stroke="#333333" stroke-width="0.11">fl/fl</text>
<circle cx="177.90" cy="153.30" r="0.85" fill="#7a1a2c"/>
<text x="182.10" y="155.68" font-size="6.6" fill="#333333" stroke="#333333" stroke-width="0.11">Δ/Δ</text>
<text x="184.00" y="227.50" font-size="6.6" fill="#333333" stroke="#333333" stroke-width="0.22" text-anchor="end" transform="rotate(-45 184.00 227.50) translate(184.00 0) scale(0.9 1) translate(-184.00 0)">PreCFUE</text>
<text x="201.50" y="227.50" font-size="6.6" fill="#333333" stroke="#333333" stroke-width="0.22" text-anchor="end" transform="rotate(-45 201.50 227.50) translate(201.50 0) scale(0.9 1) translate(-201.50 0)">PreGM</text>
<text x="218.80" y="227.50" font-size="6.6" fill="#333333" stroke="#333333" stroke-width="0.22" text-anchor="end" transform="rotate(-45 218.80 227.50) translate(218.80 0) scale(0.9 1) translate(-218.80 0)">PreMegE</text>
<text x="235.80" y="227.50" font-size="6.6" fill="#333333" stroke="#333333" stroke-width="0.22" text-anchor="end" transform="rotate(-45 235.80 227.50) translate(235.80 0) scale(0.9 1) translate(-235.80 0)">CFU-E</text>
<text x="150.59" y="181.70" font-size="8.3" fill="#333333" stroke="#333333" stroke-width="0.22" text-anchor="middle" textLength="47" lengthAdjust="spacingAndGlyphs" transform="rotate(-90 150.59 181.70)">% of cells in BM</text>
<line x1="275.10" y1="149.70" x2="275.10" y2="217.60" stroke="#1c1c1c" stroke-width="1.15"/>
<line x1="272.30" y1="217.10" x2="275.10" y2="217.10" stroke="#1c1c1c" stroke-width="0.9"/>
<text x="268.80" y="219.76" font-size="7.4" fill="#333333" stroke="#333333" stroke-width="0.22" text-anchor="end" transform="translate(268.80 0) scale(0.9 1) translate(-268.80 0)">0</text>
<line x1="272.30" y1="200.93" x2="275.10" y2="200.93" stroke="#1c1c1c" stroke-width="0.9"/>
<text x="268.80" y="203.59" font-size="7.4" fill="#333333" stroke="#333333" stroke-width="0.22" text-anchor="end" transform="translate(268.80 0) scale(0.9 1) translate(-268.80 0)">20</text>
<line x1="272.30" y1="184.75" x2="275.10" y2="184.75" stroke="#1c1c1c" stroke-width="0.9"/>
<text x="268.80" y="187.41" font-size="7.4" fill="#333333" stroke="#333333" stroke-width="0.22" text-anchor="end" transform="translate(268.80 0) scale(0.9 1) translate(-268.80 0)">40</text>
<line x1="272.30" y1="168.57" x2="275.10" y2="168.57" stroke="#1c1c1c" stroke-width="0.9"/>
<text x="268.80" y="171.24" font-size="7.4" fill="#333333" stroke="#333333" stroke-width="0.22" text-anchor="end" transform="translate(268.80 0) scale(0.9 1) translate(-268.80 0)">60</text>
<line x1="272.30" y1="152.40" x2="275.10" y2="152.40" stroke="#1c1c1c" stroke-width="0.9"/>
<text x="268.80" y="155.06" font-size="7.4" fill="#333333" stroke="#333333" stroke-width="0.22" text-anchor="end" transform="translate(268.80 0) scale(0.9 1) translate(-268.80 0)">80</text>
<rect x="278.10" y="191.22" width="6.40" height="25.88" fill="#8b9bc6"/>
<line x1="281.30" y1="192.43" x2="281.30" y2="190.41" stroke="#1f4f8b" stroke-width="0.9"/>
<line x1="279.80" y1="190.41" x2="282.80" y2="190.41" stroke="#1f4f8b" stroke-width="0.9"/>
<line x1="279.80" y1="192.43" x2="282.80" y2="192.43" stroke="#1f4f8b" stroke-width="0.9"/>
<circle cx="279.70" cy="192.03" r="1.15" fill="#1f4f8b"/>
<circle cx="282.90" cy="191.22" r="1.15" fill="#1f4f8b"/>
<circle cx="281.30" cy="190.82" r="1.15" fill="#1f4f8b"/>
<rect x="285.60" y="197.29" width="6.40" height="19.81" fill="#e8877d"/>
<line x1="288.80" y1="201.73" x2="288.80" y2="196.48" stroke="#c41e3a" stroke-width="0.9"/>
<line x1="287.30" y1="196.48" x2="290.30" y2="196.48" stroke="#c41e3a" stroke-width="0.9"/>
<line x1="287.30" y1="201.73" x2="290.30" y2="201.73" stroke="#c41e3a" stroke-width="0.9"/>
<circle cx="287.20" cy="201.73" r="1.15" fill="#c41e3a"/>
<circle cx="290.40" cy="200.12" r="1.15" fill="#c41e3a"/>
<circle cx="288.80" cy="198.50" r="1.15" fill="#c41e3a"/>
<circle cx="288.00" cy="196.88" r="1.15" fill="#c41e3a"/>
<line x1="285.10" y1="217.10" x2="285.10" y2="219.30" stroke="#1c1c1c" stroke-width="0.9"/>
<rect x="299.40" y="212.89" width="6.40" height="4.21" fill="#8b9bc6"/>
<line x1="302.60" y1="213.87" x2="302.60" y2="212.25" stroke="#1f4f8b" stroke-width="0.9"/>
<line x1="301.10" y1="212.25" x2="304.10" y2="212.25" stroke="#1f4f8b" stroke-width="0.9"/>
<line x1="301.10" y1="213.87" x2="304.10" y2="213.87" stroke="#1f4f8b" stroke-width="0.9"/>
<circle cx="301.00" cy="213.46" r="1.15" fill="#1f4f8b"/>
<circle cx="304.20" cy="212.65" r="1.15" fill="#1f4f8b"/>
<rect x="306.90" y="213.62" width="6.40" height="3.48" fill="#e8877d"/>
<line x1="310.10" y1="214.27" x2="310.10" y2="213.06" stroke="#c41e3a" stroke-width="0.9"/>
<line x1="308.60" y1="213.06" x2="311.60" y2="213.06" stroke="#c41e3a" stroke-width="0.9"/>
<line x1="308.60" y1="214.27" x2="311.60" y2="214.27" stroke="#c41e3a" stroke-width="0.9"/>
<circle cx="308.50" cy="214.03" r="1.15" fill="#c41e3a"/>
<circle cx="311.70" cy="213.38" r="1.15" fill="#c41e3a"/>
<line x1="306.40" y1="217.10" x2="306.40" y2="219.30" stroke="#1c1c1c" stroke-width="0.9"/>
<rect x="320.60" y="172.05" width="6.40" height="45.05" fill="#8b9bc6"/>
<line x1="323.80" y1="173.43" x2="323.80" y2="171.00" stroke="#1f4f8b" stroke-width="0.9"/>
<line x1="322.30" y1="171.00" x2="325.30" y2="171.00" stroke="#1f4f8b" stroke-width="0.9"/>
<line x1="322.30" y1="173.43" x2="325.30" y2="173.43" stroke="#1f4f8b" stroke-width="0.9"/>
<circle cx="322.20" cy="173.02" r="1.15" fill="#1f4f8b"/>
<circle cx="325.40" cy="172.21" r="1.15" fill="#1f4f8b"/>
<circle cx="323.80" cy="171.41" r="1.15" fill="#1f4f8b"/>
<rect x="328.10" y="163.88" width="6.40" height="53.22" fill="#e8877d"/>
<line x1="331.30" y1="167.77" x2="331.30" y2="162.91" stroke="#c41e3a" stroke-width="0.9"/>
<line x1="329.80" y1="162.91" x2="332.80" y2="162.91" stroke="#c41e3a" stroke-width="0.9"/>
<line x1="329.80" y1="167.77" x2="332.80" y2="167.77" stroke="#c41e3a" stroke-width="0.9"/>
<circle cx="329.70" cy="166.96" r="1.15" fill="#c41e3a"/>
<circle cx="332.90" cy="165.34" r="1.15" fill="#c41e3a"/>
<circle cx="331.30" cy="163.72" r="1.15" fill="#c41e3a"/>
<line x1="327.60" y1="217.10" x2="327.60" y2="219.30" stroke="#1c1c1c" stroke-width="0.9"/>
<line x1="274.60" y1="217.10" x2="337.70" y2="217.10" stroke="#1c1c1c" stroke-width="1.25"/>
<circle cx="286.20" cy="192.30" r="0.9" fill="#333"/>
<circle cx="288.80" cy="192.30" r="0.9" fill="#333"/>
<circle cx="291.40" cy="192.30" r="0.9" fill="#333"/>
<circle cx="308.50" cy="210.40" r="0.9" fill="#333"/>
<circle cx="311.10" cy="210.40" r="0.9" fill="#333"/>
<circle cx="328.70" cy="159.60" r="0.9" fill="#333"/>
<circle cx="331.30" cy="159.60" r="0.9" fill="#333"/>
<circle cx="333.90" cy="159.60" r="0.9" fill="#333"/>
<circle cx="281.00" cy="145.70" r="0.85" fill="#1d3a62"/>
<text x="285.20" y="148.08" font-size="6.6" fill="#333333" stroke="#333333" stroke-width="0.11">fl/fl</text>
<circle cx="281.00" cy="153.30" r="0.85" fill="#7a1a2c"/>
<text x="285.20" y="155.68" font-size="6.6" fill="#333333" stroke="#333333" stroke-width="0.11">Δ/Δ</text>
<text x="288.10" y="227.20" font-size="6.6" fill="#333333" stroke="#333333" stroke-width="0.22" text-anchor="end" transform="rotate(-45 288.10 227.20) translate(288.10 0) scale(0.9 1) translate(-288.10 0)">B</text>
<text x="309.40" y="227.20" font-size="6.6" fill="#333333" stroke="#333333" stroke-width="0.22" text-anchor="end" transform="rotate(-45 309.40 227.20) translate(309.40 0) scale(0.9 1) translate(-309.40 0)">T</text>
<text x="330.60" y="227.20" font-size="6.6" fill="#333333" stroke="#333333" stroke-width="0.22" text-anchor="end" transform="rotate(-45 330.60 227.20) translate(330.60 0) scale(0.9 1) translate(-330.60 0)">Myeloid</text>
<text x="256.89" y="182.00" font-size="8.3" fill="#333333" stroke="#333333" stroke-width="0.22" text-anchor="middle" textLength="45.5" lengthAdjust="spacingAndGlyphs" transform="rotate(-90 256.89 182.00)">% of cells in BM</text>
<text x="352.80" y="150.60" font-size="6.6" fill="#3a3a3a" stroke="#3a3a3a" stroke-width="0.12" textLength="45.00" lengthAdjust="spacingAndGlyphs">Donor (CD45.2)</text>
<text x="388.70" y="156.80" font-size="6.6" fill="#3a3a3a" stroke="#3a3a3a" stroke-width="0.12" textLength="14.30" lengthAdjust="spacingAndGlyphs">plpC</text>
<g transform="translate(377.70 163.60) scale(0.56)"><circle cx="0" cy="-0.2" r="5.9" fill="#111"/><ellipse cx="-7.6" cy="0.5" rx="3.4" ry="4.1" fill="#111"/><circle cx="-9.4" cy="-2.6" r="1.5" fill="#111"/><circle cx="-6.6" cy="-3.2" r="1.5" fill="#111"/><path d="M-10.8 2.3 L-3.8 3.4 L-9.8 8.9 Z" fill="#111"/><path d="M-4.2 1.2 A2.0 2.0 0 1 1 -1.8 2.6" stroke="#fff" stroke-width="0.9" fill="none"/><path d="M-6.6 3.0 L-4.8 3.8" stroke="#fff" stroke-width="0.8"/><path d="M5.4 0.6 L7.5 0.6" stroke="#111" stroke-width="0.9"/><circle cx="8.6" cy="0.6" r="1.1" fill="#fff" stroke="#111" stroke-width="0.8"/></g>
<g transform="translate(386.5 162.3) rotate(-40)"><rect x="-2.2" y="-0.9" width="4.4" height="1.8" fill="none" stroke="#999" stroke-width="0.5"/><path d="M-2.2 0 H-3.4 M2.2 0 H3.4" stroke="#999" stroke-width="0.5"/></g>
<text x="359.70" y="178.60" font-size="6.6" fill="#3a3a3a" stroke="#3a3a3a" stroke-width="0.12" textLength="32.00" lengthAdjust="spacingAndGlyphs">fl/fl or Δ/Δ</text>
<text x="355.30" y="186.00" font-size="6.6" fill="#3a3a3a" stroke="#3a3a3a" stroke-width="0.12" textLength="42.50" lengthAdjust="spacingAndGlyphs">1×10<tspan font-size="3.8" dy="-2.8">6</tspan><tspan dy="2.8"> BM cells</tspan></text>
<text x="351.80" y="200.50" font-size="6.6" fill="#3a3a3a" stroke="#3a3a3a" stroke-width="0.12" textLength="54.80" lengthAdjust="spacingAndGlyphs">Competitor (CD45.1)</text>
<g transform="translate(377.70 208.90) scale(0.56)"><circle cx="0" cy="-0.2" r="5.9" fill="#111"/><ellipse cx="-7.6" cy="0.5" rx="3.4" ry="4.1" fill="#111"/><circle cx="-9.4" cy="-2.6" r="1.5" fill="#111"/><circle cx="-6.6" cy="-3.2" r="1.5" fill="#111"/><path d="M-10.8 2.3 L-3.8 3.4 L-9.8 8.9 Z" fill="#111"/><path d="M-4.2 1.2 A2.0 2.0 0 1 1 -1.8 2.6" stroke="#fff" stroke-width="0.9" fill="none"/><path d="M-6.6 3.0 L-4.8 3.8" stroke="#fff" stroke-width="0.8"/><path d="M5.4 0.6 L7.5 0.6" stroke="#111" stroke-width="0.9"/><circle cx="8.6" cy="0.6" r="1.1" fill="#fff" stroke="#111" stroke-width="0.8"/></g>
<text x="356.20" y="221.60" font-size="6.6" fill="#3a3a3a" stroke="#3a3a3a" stroke-width="0.12" textLength="42.50" lengthAdjust="spacingAndGlyphs">1×10<tspan font-size="3.8" dy="-2.8">6</tspan><tspan dy="2.8"> BM cells</tspan></text>
<path d="M404.5 156.7 H408.2 V218 H404.5 M408.2 187 H411.5" fill="none" stroke="#333" stroke-width="0.8"/>
<defs><linearGradient id="cone" x1="0" y1="1" x2="0.4" y2="0"><stop offset="0" stop-color="#d89a18"/><stop offset="0.7" stop-color="#eab040"/><stop offset="1" stop-color="#f3c870"/></linearGradient></defs>
<text x="422.40" y="170.90" font-size="6.6" fill="#3a3a3a" stroke="#3a3a3a" stroke-width="0.12" textLength="18.60" lengthAdjust="spacingAndGlyphs">9.5 Gy</text>
<path d="M420.9 182.6 L424.0 173.0 Q426.5 172.0 428.9 174.6 Z" fill="url(#cone)"/>
<g transform="translate(422.30 189.00) scale(0.56)"><circle cx="0" cy="-0.2" r="5.9" fill="#111"/><ellipse cx="-7.6" cy="0.5" rx="3.4" ry="4.1" fill="#111"/><circle cx="-9.4" cy="-2.6" r="1.5" fill="#111"/><circle cx="-6.6" cy="-3.2" r="1.5" fill="#111"/><path d="M-10.8 2.3 L-3.8 3.4 L-9.8 8.9 Z" fill="#111"/><path d="M-4.2 1.2 A2.0 2.0 0 1 1 -1.8 2.6" stroke="#fff" stroke-width="0.9" fill="none"/><path d="M-6.6 3.0 L-4.8 3.8" stroke="#fff" stroke-width="0.8"/><path d="M5.4 0.6 L7.5 0.6" stroke="#111" stroke-width="0.9"/><circle cx="8.6" cy="0.6" r="1.1" fill="#fff" stroke="#111" stroke-width="0.8"/></g>
<text x="411.20" y="203.30" font-size="6.6" fill="#3a3a3a" stroke="#3a3a3a" stroke-width="0.12" textLength="46.80" lengthAdjust="spacingAndGlyphs">Primary recipient</text>
<text x="421.80" y="210.40" font-size="6.6" fill="#3a3a3a" stroke="#3a3a3a" stroke-width="0.12" textLength="24.60" lengthAdjust="spacingAndGlyphs">(CD45.1)</text>
<text x="446.20" y="175.00" font-size="6.6" fill="#3a3a3a" stroke="#3a3a3a" stroke-width="0.12" textLength="14.90" lengthAdjust="spacingAndGlyphs">isolate</text>
<text x="434.50" y="184.90" font-size="6.6" fill="#3a3a3a" stroke="#3a3a3a" stroke-width="0.12" textLength="43.60" lengthAdjust="spacingAndGlyphs">1×10<tspan font-size="3.8" dy="-2.8">6</tspan><tspan dy="2.8"> BM cells</tspan></text>
<line x1="435.90" y1="189.40" x2="469.50" y2="189.40" stroke="#222" stroke-width="0.8"/>
<path d="M469 187.8 L472.5 189.4 L469 191.0 Z" fill="#222"/>
<text x="446.20" y="198.00" font-size="6.6" fill="#3a3a3a" stroke="#3a3a3a" stroke-width="0.12" textLength="13.90" lengthAdjust="spacingAndGlyphs">&gt;16w</text>
<text x="487.50" y="170.90" font-size="6.6" fill="#3a3a3a" stroke="#3a3a3a" stroke-width="0.12" textLength="18.90" lengthAdjust="spacingAndGlyphs">9.5 Gy</text>
<path d="M485.4 182.6 L488.5 173.0 Q491.0 172.0 493.4 174.6 Z" fill="url(#cone)"/>
<g transform="translate(486.50 189.00) scale(0.56)"><circle cx="0" cy="-0.2" r="5.9" fill="#111"/><ellipse cx="-7.6" cy="0.5" rx="3.4" ry="4.1" fill="#111"/><circle cx="-9.4" cy="-2.6" r="1.5" fill="#111"/><circle cx="-6.6" cy="-3.2" r="1.5" fill="#111"/><path d="M-10.8 2.3 L-3.8 3.4 L-9.8 8.9 Z" fill="#111"/><path d="M-4.2 1.2 A2.0 2.0 0 1 1 -1.8 2.6" stroke="#fff" stroke-width="0.9" fill="none"/><path d="M-6.6 3.0 L-4.8 3.8" stroke="#fff" stroke-width="0.8"/><path d="M5.4 0.6 L7.5 0.6" stroke="#111" stroke-width="0.9"/><circle cx="8.6" cy="0.6" r="1.1" fill="#fff" stroke="#111" stroke-width="0.8"/></g>
<text x="466.20" y="203.30" font-size="6.6" fill="#3a3a3a" stroke="#3a3a3a" stroke-width="0.12" textLength="47.80" lengthAdjust="spacingAndGlyphs">Second recipient</text>
<text x="476.80" y="210.40" font-size="6.6" fill="#3a3a3a" stroke="#3a3a3a" stroke-width="0.12" textLength="24.60" lengthAdjust="spacingAndGlyphs">(CD45.1)</text>
<line x1="42.40" y1="280.90" x2="42.40" y2="348.90" stroke="#1c1c1c" stroke-width="1.15"/>
<line x1="39.60" y1="348.40" x2="42.40" y2="348.40" stroke="#1c1c1c" stroke-width="0.9"/>
<text x="36.10" y="351.06" font-size="7.4" fill="#333333" stroke="#333333" stroke-width="0.22" text-anchor="end" transform="translate(36.10 0) scale(0.9 1) translate(-36.10 0)">0</text>
<line x1="39.60" y1="332.20" x2="42.40" y2="332.20" stroke="#1c1c1c" stroke-width="0.9"/>
<text x="36.10" y="334.86" font-size="7.4" fill="#333333" stroke="#333333" stroke-width="0.22" text-anchor="end" transform="translate(36.10 0) scale(0.9 1) translate(-36.10 0)">20</text>
<line x1="39.60" y1="316.00" x2="42.40" y2="316.00" stroke="#1c1c1c" stroke-width="0.9"/>
<text x="36.10" y="318.66" font-size="7.4" fill="#333333" stroke="#333333" stroke-width="0.22" text-anchor="end" transform="translate(36.10 0) scale(0.9 1) translate(-36.10 0)">40</text>
<line x1="39.60" y1="299.80" x2="42.40" y2="299.80" stroke="#1c1c1c" stroke-width="0.9"/>
<text x="36.10" y="302.46" font-size="7.4" fill="#333333" stroke="#333333" stroke-width="0.22" text-anchor="end" transform="translate(36.10 0) scale(0.9 1) translate(-36.10 0)">60</text>
<line x1="39.60" y1="283.60" x2="42.40" y2="283.60" stroke="#1c1c1c" stroke-width="0.9"/>
<text x="36.10" y="286.26" font-size="7.4" fill="#333333" stroke="#333333" stroke-width="0.22" text-anchor="end" transform="translate(36.10 0) scale(0.9 1) translate(-36.10 0)">80</text>
<line x1="41.90" y1="348.40" x2="127.70" y2="348.40" stroke="#1c1c1c" stroke-width="1.25"/>
<line x1="49.90" y1="348.40" x2="49.90" y2="350.60" stroke="#1c1c1c" stroke-width="0.9"/>
<text x="49.90" y="360.30" font-size="7.2" fill="#333333" stroke="#333333" stroke-width="0.22" text-anchor="middle">1</text>
<line x1="49.90" y1="315.68" x2="49.90" y2="310.98" stroke="#1f4f8b" stroke-width="0.8"/>
<line x1="48.70" y1="310.98" x2="51.10" y2="310.98" stroke="#1f4f8b" stroke-width="0.8"/>
<line x1="48.70" y1="315.68" x2="51.10" y2="315.68" stroke="#1f4f8b" stroke-width="0.8"/>
<line x1="49.90" y1="335.68" x2="49.90" y2="333.41" stroke="#c41e3a" stroke-width="0.8"/>
<line x1="48.70" y1="333.41" x2="51.10" y2="333.41" stroke="#c41e3a" stroke-width="0.8"/>
<line x1="48.70" y1="335.68" x2="51.10" y2="335.68" stroke="#c41e3a" stroke-width="0.8"/>
<circle cx="49.90" cy="334.47" r="1.0" fill="#c41e3a"/>
<circle cx="49.90" cy="315.68" r="0.9" fill="#1f4f8b"/>
<line x1="64.70" y1="348.40" x2="64.70" y2="350.60" stroke="#1c1c1c" stroke-width="0.9"/>
<text x="64.70" y="360.30" font-size="7.2" fill="#333333" stroke="#333333" stroke-width="0.22" text-anchor="middle">2</text>
<line x1="64.70" y1="313.41" x2="64.70" y2="308.71" stroke="#1f4f8b" stroke-width="0.8"/>
<line x1="63.50" y1="308.71" x2="65.90" y2="308.71" stroke="#1f4f8b" stroke-width="0.8"/>
<line x1="63.50" y1="313.41" x2="65.90" y2="313.41" stroke="#1f4f8b" stroke-width="0.8"/>
<line x1="64.70" y1="338.76" x2="64.70" y2="336.65" stroke="#c41e3a" stroke-width="0.8"/>
<line x1="63.50" y1="336.65" x2="65.90" y2="336.65" stroke="#c41e3a" stroke-width="0.8"/>
<line x1="63.50" y1="338.76" x2="65.90" y2="338.76" stroke="#c41e3a" stroke-width="0.8"/>
<circle cx="64.70" cy="337.55" r="1.0" fill="#c41e3a"/>
<circle cx="64.70" cy="313.41" r="0.9" fill="#1f4f8b"/>
<line x1="79.40" y1="348.40" x2="79.40" y2="350.60" stroke="#1c1c1c" stroke-width="0.9"/>
<text x="79.40" y="360.30" font-size="7.2" fill="#333333" stroke="#333333" stroke-width="0.22" text-anchor="middle">3</text>
<line x1="79.40" y1="308.39" x2="79.40" y2="298.83" stroke="#1f4f8b" stroke-width="0.8"/>
<line x1="78.20" y1="298.83" x2="80.60" y2="298.83" stroke="#1f4f8b" stroke-width="0.8"/>
<line x1="78.20" y1="308.39" x2="80.60" y2="308.39" stroke="#1f4f8b" stroke-width="0.8"/>
<line x1="79.40" y1="338.76" x2="79.40" y2="336.65" stroke="#c41e3a" stroke-width="0.8"/>
<line x1="78.20" y1="336.65" x2="80.60" y2="336.65" stroke="#c41e3a" stroke-width="0.8"/>
<line x1="78.20" y1="338.76" x2="80.60" y2="338.76" stroke="#c41e3a" stroke-width="0.8"/>
<circle cx="79.40" cy="337.55" r="1.0" fill="#c41e3a"/>
<circle cx="79.40" cy="308.39" r="0.9" fill="#1f4f8b"/>
<line x1="94.50" y1="348.40" x2="94.50" y2="350.60" stroke="#1c1c1c" stroke-width="0.9"/>
<text x="94.50" y="360.30" font-size="7.2" fill="#333333" stroke="#333333" stroke-width="0.22" text-anchor="middle">4</text>
<line x1="94.50" y1="296.32" x2="94.50" y2="287.41" stroke="#1f4f8b" stroke-width="0.8"/>
<line x1="93.30" y1="287.41" x2="95.70" y2="287.41" stroke="#1f4f8b" stroke-width="0.8"/>
<line x1="93.30" y1="296.32" x2="95.70" y2="296.32" stroke="#1f4f8b" stroke-width="0.8"/>
<line x1="94.50" y1="339.08" x2="94.50" y2="335.44" stroke="#c41e3a" stroke-width="0.8"/>
<line x1="93.30" y1="335.44" x2="95.70" y2="335.44" stroke="#c41e3a" stroke-width="0.8"/>
<line x1="93.30" y1="339.08" x2="95.70" y2="339.08" stroke="#c41e3a" stroke-width="0.8"/>
<circle cx="94.50" cy="337.87" r="1.0" fill="#c41e3a"/>
<circle cx="94.50" cy="296.32" r="0.9" fill="#1f4f8b"/>
<line x1="109.20" y1="348.40" x2="109.20" y2="350.60" stroke="#1c1c1c" stroke-width="0.9"/>
<text x="109.20" y="360.30" font-size="7.2" fill="#333333" stroke="#333333" stroke-width="0.22" text-anchor="middle">6</text>
<line x1="109.20" y1="297.53" x2="109.20" y2="288.46" stroke="#1f4f8b" stroke-width="0.8"/>
<line x1="108.00" y1="288.46" x2="110.40" y2="288.46" stroke="#1f4f8b" stroke-width="0.8"/>
<line x1="108.00" y1="297.53" x2="110.40" y2="297.53" stroke="#1f4f8b" stroke-width="0.8"/>
<line x1="109.20" y1="335.68" x2="109.20" y2="332.77" stroke="#c41e3a" stroke-width="0.8"/>
<line x1="108.00" y1="332.77" x2="110.40" y2="332.77" stroke="#c41e3a" stroke-width="0.8"/>
<line x1="108.00" y1="335.68" x2="110.40" y2="335.68" stroke="#c41e3a" stroke-width="0.8"/>
<circle cx="109.20" cy="334.47" r="1.0" fill="#c41e3a"/>
<circle cx="109.20" cy="297.53" r="0.9" fill="#1f4f8b"/>
<line x1="124.30" y1="348.40" x2="124.30" y2="350.60" stroke="#1c1c1c" stroke-width="0.9"/>
<text x="124.30" y="360.30" font-size="7.2" fill="#333333" stroke="#333333" stroke-width="0.22" text-anchor="middle">7</text>
<line x1="124.30" y1="299.72" x2="124.30" y2="292.59" stroke="#1f4f8b" stroke-width="0.8"/>
<line x1="123.10" y1="292.59" x2="125.50" y2="292.59" stroke="#1f4f8b" stroke-width="0.8"/>
<line x1="123.10" y1="299.72" x2="125.50" y2="299.72" stroke="#1f4f8b" stroke-width="0.8"/>
<line x1="124.30" y1="337.55" x2="124.30" y2="332.36" stroke="#c41e3a" stroke-width="0.8"/>
<line x1="123.10" y1="332.36" x2="125.50" y2="332.36" stroke="#c41e3a" stroke-width="0.8"/>
<line x1="123.10" y1="337.55" x2="125.50" y2="337.55" stroke="#c41e3a" stroke-width="0.8"/>
<circle cx="124.30" cy="336.33" r="1.0" fill="#c41e3a"/>
<circle cx="124.30" cy="299.72" r="0.9" fill="#1f4f8b"/>
<path d="M49.90 315.68 C52.37 315.30 59.78 314.62 64.70 313.41 C69.62 312.19 74.43 311.23 79.40 308.39 C84.37 305.54 89.53 298.13 94.50 296.32 C99.47 294.51 104.23 296.97 109.20 297.53 C114.17 298.10 121.78 299.35 124.30 299.72" fill="none" stroke="#1f4f8b" stroke-width="1.1"/>
<path d="M49.90 334.47 C53.35 335.19 57.82 336.83 64.70 337.55 C71.58 338.26 72.45 337.47 79.40 337.55 C86.35 337.62 87.55 338.59 94.50 337.87 C101.45 337.15 102.25 334.83 109.20 334.47 C116.15 334.11 120.78 335.90 124.30 336.33" fill="none" stroke="#c41e3a" stroke-width="1.1"/>
<circle cx="47.30" cy="307.30" r="0.9" fill="#333"/>
<circle cx="49.90" cy="307.30" r="0.9" fill="#333"/>
<circle cx="52.50" cy="307.30" r="0.9" fill="#333"/>
<circle cx="62.10" cy="305.10" r="0.9" fill="#333"/>
<circle cx="64.70" cy="305.10" r="0.9" fill="#333"/>
<circle cx="67.30" cy="305.10" r="0.9" fill="#333"/>
<circle cx="76.80" cy="295.20" r="0.9" fill="#333"/>
<circle cx="79.40" cy="295.20" r="0.9" fill="#333"/>
<circle cx="82.00" cy="295.20" r="0.9" fill="#333"/>
<circle cx="91.90" cy="305.10" r="0.9" fill="#333"/>
<circle cx="94.50" cy="305.10" r="0.9" fill="#333"/>
<circle cx="97.10" cy="305.10" r="0.9" fill="#333"/>
<circle cx="106.60" cy="305.10" r="0.9" fill="#333"/>
<circle cx="109.20" cy="305.10" r="0.9" fill="#333"/>
<circle cx="111.80" cy="305.10" r="0.9" fill="#333"/>
<circle cx="121.70" cy="305.10" r="0.9" fill="#333"/>
<circle cx="124.30" cy="305.10" r="0.9" fill="#333"/>
<circle cx="126.90" cy="305.10" r="0.9" fill="#333"/>
<line x1="47.00" y1="277.80" x2="53.80" y2="277.80" stroke="#1f4f8b" stroke-width="1.2"/>
<circle cx="50.40" cy="277.80" r="0.8" fill="#1f4f8b"/>
<text x="57.00" y="280.18" font-size="6.6" fill="#333333" stroke="#333333" stroke-width="0.11">fl/fl</text>
<line x1="47.00" y1="285.60" x2="53.80" y2="285.60" stroke="#c41e3a" stroke-width="1.2"/>
<circle cx="50.40" cy="285.60" r="0.9" fill="#c41e3a"/>
<text x="57.00" y="287.98" font-size="6.6" fill="#333333" stroke="#333333" stroke-width="0.11">Δ/Δ</text>
<text x="86.70" y="370.90" font-size="8.8" fill="#333333" stroke="#333333" stroke-width="0.22" text-anchor="middle" textLength="83" lengthAdjust="spacingAndGlyphs">Months after transplantation</text>
<text x="25.19" y="313.70" font-size="8.3" fill="#333333" stroke="#333333" stroke-width="0.22" text-anchor="middle" textLength="86" lengthAdjust="spacingAndGlyphs" transform="rotate(-90 25.19 313.70)">Donor-derived cells in PB (%)</text>
<line x1="186.90" y1="284.80" x2="186.90" y2="348.90" stroke="#1c1c1c" stroke-width="1.15"/>
<line x1="184.10" y1="348.40" x2="186.90" y2="348.40" stroke="#1c1c1c" stroke-width="0.9"/>
<text x="180.60" y="351.06" font-size="7.4" fill="#333333" stroke="#333333" stroke-width="0.22" text-anchor="end" transform="translate(180.60 0) scale(0.9 1) translate(-180.60 0)">0</text>
<line x1="184.10" y1="336.22" x2="186.90" y2="336.22" stroke="#1c1c1c" stroke-width="0.9"/>
<text x="180.60" y="338.88" font-size="7.4" fill="#333333" stroke="#333333" stroke-width="0.22" text-anchor="end" transform="translate(180.60 0) scale(0.9 1) translate(-180.60 0)">20</text>
<line x1="184.10" y1="324.04" x2="186.90" y2="324.04" stroke="#1c1c1c" stroke-width="0.9"/>
<text x="180.60" y="326.70" font-size="7.4" fill="#333333" stroke="#333333" stroke-width="0.22" text-anchor="end" transform="translate(180.60 0) scale(0.9 1) translate(-180.60 0)">40</text>
<line x1="184.10" y1="311.86" x2="186.90" y2="311.86" stroke="#1c1c1c" stroke-width="0.9"/>
<text x="180.60" y="314.52" font-size="7.4" fill="#333333" stroke="#333333" stroke-width="0.22" text-anchor="end" transform="translate(180.60 0) scale(0.9 1) translate(-180.60 0)">60</text>
<line x1="184.10" y1="299.68" x2="186.90" y2="299.68" stroke="#1c1c1c" stroke-width="0.9"/>
<text x="180.60" y="302.34" font-size="7.4" fill="#333333" stroke="#333333" stroke-width="0.22" text-anchor="end" transform="translate(180.60 0) scale(0.9 1) translate(-180.60 0)">80</text>
<line x1="184.10" y1="287.50" x2="186.90" y2="287.50" stroke="#1c1c1c" stroke-width="0.9"/>
<text x="180.60" y="290.16" font-size="7.4" fill="#333333" stroke="#333333" stroke-width="0.22" text-anchor="end" transform="translate(180.60 0) scale(0.9 1) translate(-180.60 0)">100</text>
<rect x="192.10" y="305.28" width="7.90" height="43.12" fill="#8b9bc6"/>
<line x1="196.05" y1="309.42" x2="196.05" y2="300.29" stroke="#1f4f8b" stroke-width="0.9"/>
<line x1="194.55" y1="300.29" x2="197.55" y2="300.29" stroke="#1f4f8b" stroke-width="0.9"/>
<line x1="194.55" y1="309.42" x2="197.55" y2="309.42" stroke="#1f4f8b" stroke-width="0.9"/>
<circle cx="194.45" cy="309.42" r="1.15" fill="#1f4f8b"/>
<circle cx="197.65" cy="308.21" r="1.15" fill="#1f4f8b"/>
<circle cx="196.05" cy="305.77" r="1.15" fill="#1f4f8b"/>
<rect x="205.60" y="335.73" width="8.00" height="12.67" fill="#e8877d"/>
<line x1="209.60" y1="339.26" x2="209.60" y2="330.25" stroke="#c41e3a" stroke-width="0.9"/>
<line x1="208.10" y1="330.25" x2="211.10" y2="330.25" stroke="#c41e3a" stroke-width="0.9"/>
<line x1="208.10" y1="339.26" x2="211.10" y2="339.26" stroke="#c41e3a" stroke-width="0.9"/>
<circle cx="208.00" cy="337.44" r="1.15" fill="#c41e3a"/>
<circle cx="211.20" cy="335.61" r="1.15" fill="#c41e3a"/>
<circle cx="209.60" cy="333.17" r="1.15" fill="#c41e3a"/>
<line x1="186.40" y1="348.40" x2="218.00" y2="348.40" stroke="#1c1c1c" stroke-width="1.25"/>
<line x1="196.40" y1="348.40" x2="196.40" y2="350.60" stroke="#1c1c1c" stroke-width="0.9"/>
<line x1="209.80" y1="348.40" x2="209.80" y2="350.60" stroke="#1c1c1c" stroke-width="0.9"/>
<circle cx="207.60" cy="324.70" r="0.9" fill="#333"/>
<circle cx="210.20" cy="324.70" r="0.9" fill="#333"/>
<circle cx="212.80" cy="324.70" r="0.9" fill="#333"/>
<text x="196.10" y="359.00" font-size="6.4" fill="#333333" stroke="#333333" stroke-width="0.11" text-anchor="middle">fl/fl</text>
<text x="210.00" y="359.00" font-size="6.4" fill="#333333" stroke="#333333" stroke-width="0.11" text-anchor="middle">Δ/Δ</text>
<text x="202.80" y="280.70" font-size="9.2" fill="#333333" stroke="#333333" stroke-width="0.22" text-anchor="middle" textLength="29.5" lengthAdjust="spacingAndGlyphs">CD45.2</text>
<text x="165.79" y="315.80" font-size="8.3" fill="#333333" stroke="#333333" stroke-width="0.22" text-anchor="middle" textLength="86" lengthAdjust="spacingAndGlyphs" transform="rotate(-90 165.79 315.80)">Donor-derived cells in BM (%)</text>
<line x1="273.60" y1="276.70" x2="273.60" y2="348.50" stroke="#1c1c1c" stroke-width="1.15"/>
<line x1="270.80" y1="348.00" x2="273.60" y2="348.00" stroke="#1c1c1c" stroke-width="0.9"/>
<text x="267.30" y="350.66" font-size="7.4" fill="#333333" stroke="#333333" stroke-width="0.22" text-anchor="end" transform="translate(267.30 0) scale(0.9 1) translate(-267.30 0)">0.00</text>
<line x1="270.80" y1="325.13" x2="273.60" y2="325.13" stroke="#1c1c1c" stroke-width="0.9"/>
<text x="267.30" y="327.80" font-size="7.4" fill="#333333" stroke="#333333" stroke-width="0.22" text-anchor="end" transform="translate(267.30 0) scale(0.9 1) translate(-267.30 0)">0.05</text>
<line x1="270.80" y1="302.27" x2="273.60" y2="302.27" stroke="#1c1c1c" stroke-width="0.9"/>
<text x="267.30" y="304.93" font-size="7.4" fill="#333333" stroke="#333333" stroke-width="0.22" text-anchor="end" transform="translate(267.30 0) scale(0.9 1) translate(-267.30 0)">0.10</text>
<line x1="270.80" y1="279.40" x2="273.60" y2="279.40" stroke="#1c1c1c" stroke-width="0.9"/>
<text x="267.30" y="282.06" font-size="7.4" fill="#333333" stroke="#333333" stroke-width="0.22" text-anchor="end" transform="translate(267.30 0) scale(0.9 1) translate(-267.30 0)">0.15</text>
<rect x="277.00" y="324.22" width="5.80" height="23.78" fill="#8b9bc6"/>
<line x1="279.90" y1="334.28" x2="279.90" y2="310.50" stroke="#1f4f8b" stroke-width="0.9"/>
<line x1="278.40" y1="310.50" x2="281.40" y2="310.50" stroke="#1f4f8b" stroke-width="0.9"/>
<line x1="278.40" y1="334.28" x2="281.40" y2="334.28" stroke="#1f4f8b" stroke-width="0.9"/>
<circle cx="278.30" cy="330.62" r="1.15" fill="#1f4f8b"/>
<circle cx="281.50" cy="329.71" r="1.15" fill="#1f4f8b"/>
<circle cx="279.90" cy="327.42" r="1.15" fill="#1f4f8b"/>
<rect x="285.00" y="315.30" width="5.80" height="32.70" fill="#e8877d"/>
<line x1="287.90" y1="334.28" x2="287.90" y2="296.32" stroke="#c41e3a" stroke-width="0.9"/>
<line x1="286.40" y1="296.32" x2="289.40" y2="296.32" stroke="#c41e3a" stroke-width="0.9"/>
<line x1="286.40" y1="334.28" x2="289.40" y2="334.28" stroke="#c41e3a" stroke-width="0.9"/>
<circle cx="286.30" cy="333.37" r="1.15" fill="#c41e3a"/>
<circle cx="289.50" cy="327.42" r="1.15" fill="#c41e3a"/>
<circle cx="287.90" cy="305.01" r="1.15" fill="#c41e3a"/>
<circle cx="287.10" cy="293.12" r="1.15" fill="#c41e3a"/>
<line x1="284.00" y1="348.00" x2="284.00" y2="350.20" stroke="#1c1c1c" stroke-width="0.9"/>
<rect x="297.00" y="342.69" width="5.80" height="5.31" fill="#8b9bc6"/>
<line x1="299.90" y1="343.88" x2="299.90" y2="340.68" stroke="#1f4f8b" stroke-width="0.9"/>
<line x1="298.40" y1="340.68" x2="301.40" y2="340.68" stroke="#1f4f8b" stroke-width="0.9"/>
<line x1="298.40" y1="343.88" x2="301.40" y2="343.88" stroke="#1f4f8b" stroke-width="0.9"/>
<circle cx="298.30" cy="343.43" r="1.15" fill="#1f4f8b"/>
<circle cx="301.50" cy="342.51" r="1.15" fill="#1f4f8b"/>
<circle cx="299.90" cy="341.14" r="1.15" fill="#1f4f8b"/>
<rect x="305.00" y="336.57" width="5.80" height="11.43" fill="#e8877d"/>
<line x1="307.90" y1="337.48" x2="307.90" y2="335.65" stroke="#c41e3a" stroke-width="0.9"/>
<line x1="306.40" y1="335.65" x2="309.40" y2="335.65" stroke="#c41e3a" stroke-width="0.9"/>
<line x1="306.40" y1="337.48" x2="309.40" y2="337.48" stroke="#c41e3a" stroke-width="0.9"/>
<circle cx="306.30" cy="337.02" r="1.15" fill="#c41e3a"/>
<circle cx="309.50" cy="336.11" r="1.15" fill="#c41e3a"/>
<line x1="304.00" y1="348.00" x2="304.00" y2="350.20" stroke="#1c1c1c" stroke-width="0.9"/>
<rect x="317.90" y="342.69" width="5.80" height="5.31" fill="#8b9bc6"/>
<line x1="320.80" y1="343.88" x2="320.80" y2="342.05" stroke="#1f4f8b" stroke-width="0.9"/>
<line x1="319.30" y1="342.05" x2="322.30" y2="342.05" stroke="#1f4f8b" stroke-width="0.9"/>
<line x1="319.30" y1="343.88" x2="322.30" y2="343.88" stroke="#1f4f8b" stroke-width="0.9"/>
<circle cx="319.20" cy="343.43" r="1.15" fill="#1f4f8b"/>
<circle cx="322.40" cy="342.51" r="1.15" fill="#1f4f8b"/>
<rect x="325.90" y="333.37" width="5.80" height="14.63" fill="#e8877d"/>
<line x1="328.80" y1="339.77" x2="328.80" y2="323.76" stroke="#c41e3a" stroke-width="0.9"/>
<line x1="327.30" y1="323.76" x2="330.30" y2="323.76" stroke="#c41e3a" stroke-width="0.9"/>
<line x1="327.30" y1="339.77" x2="330.30" y2="339.77" stroke="#c41e3a" stroke-width="0.9"/>
<circle cx="327.20" cy="336.57" r="1.15" fill="#c41e3a"/>
<circle cx="330.40" cy="334.28" r="1.15" fill="#c41e3a"/>
<circle cx="328.80" cy="323.76" r="1.15" fill="#c41e3a"/>
<line x1="324.90" y1="348.00" x2="324.90" y2="350.20" stroke="#1c1c1c" stroke-width="0.9"/>
<rect x="338.10" y="326.51" width="5.80" height="21.49" fill="#8b9bc6"/>
<line x1="341.00" y1="330.62" x2="341.00" y2="323.76" stroke="#1f4f8b" stroke-width="0.9"/>
<line x1="339.50" y1="323.76" x2="342.50" y2="323.76" stroke="#1f4f8b" stroke-width="0.9"/>
<line x1="339.50" y1="330.62" x2="342.50" y2="330.62" stroke="#1f4f8b" stroke-width="0.9"/>
<circle cx="339.40" cy="329.71" r="1.15" fill="#1f4f8b"/>
<circle cx="342.60" cy="327.42" r="1.15" fill="#1f4f8b"/>
<circle cx="341.00" cy="325.13" r="1.15" fill="#1f4f8b"/>
<rect x="346.10" y="301.35" width="5.80" height="46.65" fill="#e8877d"/>
<line x1="349.00" y1="311.41" x2="349.00" y2="287.63" stroke="#c41e3a" stroke-width="0.9"/>
<line x1="347.50" y1="287.63" x2="350.50" y2="287.63" stroke="#c41e3a" stroke-width="0.9"/>
<line x1="347.50" y1="311.41" x2="350.50" y2="311.41" stroke="#c41e3a" stroke-width="0.9"/>
<circle cx="347.40" cy="309.13" r="1.15" fill="#c41e3a"/>
<circle cx="350.60" cy="297.69" r="1.15" fill="#c41e3a"/>
<circle cx="349.00" cy="293.12" r="1.15" fill="#c41e3a"/>
<line x1="345.10" y1="348.00" x2="345.10" y2="350.20" stroke="#1c1c1c" stroke-width="0.9"/>
<line x1="273.10" y1="348.00" x2="354.00" y2="348.00" stroke="#1c1c1c" stroke-width="1.25"/>
<circle cx="279.60" cy="304.20" r="0.9" fill="#333"/>
<circle cx="306.80" cy="331.20" r="0.9" fill="#333"/>
<circle cx="309.40" cy="331.20" r="0.9" fill="#333"/>
<circle cx="328.50" cy="318.50" r="0.9" fill="#333"/>
<circle cx="347.50" cy="283.90" r="0.9" fill="#333"/>
<circle cx="350.10" cy="283.90" r="0.9" fill="#333"/>
<circle cx="278.00" cy="277.20" r="0.85" fill="#1d3a62"/>
<text x="282.20" y="279.58" font-size="6.6" fill="#333333" stroke="#333333" stroke-width="0.11">fl/fl</text>
<circle cx="278.00" cy="285.60" r="0.85" fill="#7a1a2c"/>
<text x="282.20" y="287.98" font-size="6.6" fill="#333333" stroke="#333333" stroke-width="0.11">Δ/Δ</text>
<text x="287.00" y="358.10" font-size="6.6" fill="#333333" stroke="#333333" stroke-width="0.22" text-anchor="end" transform="rotate(-45 287.00 358.10) translate(287.00 0) scale(0.9 1) translate(-287.00 0)">HSC</text>
<text x="307.00" y="358.10" font-size="6.6" fill="#333333" stroke="#333333" stroke-width="0.22" text-anchor="end" transform="rotate(-45 307.00 358.10) translate(307.00 0) scale(0.9 1) translate(-307.00 0)">MPP1</text>
<text x="328.00" y="358.10" font-size="6.6" fill="#333333" stroke="#333333" stroke-width="0.22" text-anchor="end" transform="rotate(-45 328.00 358.10) translate(328.00 0) scale(0.9 1) translate(-328.00 0)">MPP2</text>
<text x="348.10" y="358.10" font-size="6.6" fill="#333333" stroke="#333333" stroke-width="0.22" text-anchor="end" transform="rotate(-45 348.10 358.10) translate(348.10 0) scale(0.9 1) translate(-348.10 0)">MPP3/4</text>
<text x="252.19" y="309.80" font-size="8.3" fill="#333333" stroke="#333333" stroke-width="0.22" text-anchor="middle" textLength="66.5" lengthAdjust="spacingAndGlyphs" transform="rotate(-90 252.19 309.80)">% of donor-derived cells</text>
<line x1="411.90" y1="274.40" x2="411.90" y2="349.00" stroke="#1c1c1c" stroke-width="1.15"/>
<line x1="409.10" y1="348.50" x2="411.90" y2="348.50" stroke="#1c1c1c" stroke-width="0.9"/>
<text x="405.60" y="351.16" font-size="7.4" fill="#333333" stroke="#333333" stroke-width="0.22" text-anchor="end" transform="translate(405.60 0) scale(0.9 1) translate(-405.60 0)">0.0</text>
<line x1="409.10" y1="334.22" x2="411.90" y2="334.22" stroke="#1c1c1c" stroke-width="0.9"/>
<text x="405.60" y="336.88" font-size="7.4" fill="#333333" stroke="#333333" stroke-width="0.22" text-anchor="end" transform="translate(405.60 0) scale(0.9 1) translate(-405.60 0)">0.2</text>
<line x1="409.10" y1="319.94" x2="411.90" y2="319.94" stroke="#1c1c1c" stroke-width="0.9"/>
<text x="405.60" y="322.60" font-size="7.4" fill="#333333" stroke="#333333" stroke-width="0.22" text-anchor="end" transform="translate(405.60 0) scale(0.9 1) translate(-405.60 0)">0.4</text>
<line x1="409.10" y1="305.66" x2="411.90" y2="305.66" stroke="#1c1c1c" stroke-width="0.9"/>
<text x="405.60" y="308.32" font-size="7.4" fill="#333333" stroke="#333333" stroke-width="0.22" text-anchor="end" transform="translate(405.60 0) scale(0.9 1) translate(-405.60 0)">0.6</text>
<line x1="409.10" y1="291.38" x2="411.90" y2="291.38" stroke="#1c1c1c" stroke-width="0.9"/>
<text x="405.60" y="294.04" font-size="7.4" fill="#333333" stroke="#333333" stroke-width="0.22" text-anchor="end" transform="translate(405.60 0) scale(0.9 1) translate(-405.60 0)">0.8</text>
<line x1="409.10" y1="277.10" x2="411.90" y2="277.10" stroke="#1c1c1c" stroke-width="0.9"/>
<text x="405.60" y="279.76" font-size="7.4" fill="#333333" stroke="#333333" stroke-width="0.22" text-anchor="end" transform="translate(405.60 0) scale(0.9 1) translate(-405.60 0)">1.0</text>
<rect x="414.10" y="320.65" width="4.50" height="27.85" fill="#8b9bc6"/>
<line x1="416.35" y1="327.08" x2="416.35" y2="311.37" stroke="#1f4f8b" stroke-width="0.9"/>
<line x1="414.85" y1="311.37" x2="417.85" y2="311.37" stroke="#1f4f8b" stroke-width="0.9"/>
<line x1="414.85" y1="327.08" x2="417.85" y2="327.08" stroke="#1f4f8b" stroke-width="0.9"/>
<circle cx="414.75" cy="327.08" r="1.15" fill="#1f4f8b"/>
<circle cx="417.95" cy="323.51" r="1.15" fill="#1f4f8b"/>
<circle cx="416.35" cy="318.51" r="1.15" fill="#1f4f8b"/>
<circle cx="415.55" cy="314.94" r="1.15" fill="#1f4f8b"/>
<rect x="419.80" y="302.80" width="4.70" height="45.70" fill="#e8877d"/>
<line x1="422.15" y1="318.51" x2="422.15" y2="299.95" stroke="#c41e3a" stroke-width="0.9"/>
<line x1="420.65" y1="299.95" x2="423.65" y2="299.95" stroke="#c41e3a" stroke-width="0.9"/>
<line x1="420.65" y1="318.51" x2="423.65" y2="318.51" stroke="#c41e3a" stroke-width="0.9"/>
<circle cx="420.55" cy="318.51" r="1.15" fill="#c41e3a"/>
<circle cx="423.75" cy="312.80" r="1.15" fill="#c41e3a"/>
<circle cx="422.15" cy="308.52" r="1.15" fill="#c41e3a"/>
<circle cx="421.35" cy="304.23" r="1.15" fill="#c41e3a"/>
<line x1="419.50" y1="348.50" x2="419.50" y2="350.70" stroke="#1c1c1c" stroke-width="0.9"/>
<rect x="428.80" y="343.86" width="4.50" height="4.64" fill="#8b9bc6"/>
<line x1="431.05" y1="344.93" x2="431.05" y2="343.14" stroke="#1f4f8b" stroke-width="0.9"/>
<line x1="429.55" y1="343.14" x2="432.55" y2="343.14" stroke="#1f4f8b" stroke-width="0.9"/>
<line x1="429.55" y1="344.93" x2="432.55" y2="344.93" stroke="#1f4f8b" stroke-width="0.9"/>
<circle cx="429.45" cy="344.57" r="1.15" fill="#1f4f8b"/>
<circle cx="432.65" cy="343.86" r="1.15" fill="#1f4f8b"/>
<rect x="434.50" y="342.50" width="4.70" height="6.00" fill="#e8877d"/>
<line x1="436.85" y1="343.50" x2="436.85" y2="341.72" stroke="#c41e3a" stroke-width="0.9"/>
<line x1="435.35" y1="341.72" x2="438.35" y2="341.72" stroke="#c41e3a" stroke-width="0.9"/>
<line x1="435.35" y1="343.50" x2="438.35" y2="343.50" stroke="#c41e3a" stroke-width="0.9"/>
<circle cx="435.25" cy="343.14" r="1.15" fill="#c41e3a"/>
<circle cx="438.45" cy="342.43" r="1.15" fill="#c41e3a"/>
<line x1="434.20" y1="348.50" x2="434.20" y2="350.70" stroke="#1c1c1c" stroke-width="0.9"/>
<rect x="444.20" y="322.80" width="4.50" height="25.70" fill="#8b9bc6"/>
<line x1="446.45" y1="326.37" x2="446.45" y2="321.37" stroke="#1f4f8b" stroke-width="0.9"/>
<line x1="444.95" y1="321.37" x2="447.95" y2="321.37" stroke="#1f4f8b" stroke-width="0.9"/>
<line x1="444.95" y1="326.37" x2="447.95" y2="326.37" stroke="#1f4f8b" stroke-width="0.9"/>
<circle cx="444.85" cy="325.65" r="1.15" fill="#1f4f8b"/>
<circle cx="448.05" cy="323.51" r="1.15" fill="#1f4f8b"/>
<circle cx="446.45" cy="322.08" r="1.15" fill="#1f4f8b"/>
<rect x="449.90" y="301.02" width="4.70" height="47.48" fill="#e8877d"/>
<line x1="452.25" y1="303.52" x2="452.25" y2="290.67" stroke="#c41e3a" stroke-width="0.9"/>
<line x1="450.75" y1="290.67" x2="453.75" y2="290.67" stroke="#c41e3a" stroke-width="0.9"/>
<line x1="450.75" y1="303.52" x2="453.75" y2="303.52" stroke="#c41e3a" stroke-width="0.9"/>
<circle cx="450.65" cy="302.80" r="1.15" fill="#c41e3a"/>
<circle cx="453.85" cy="300.66" r="1.15" fill="#c41e3a"/>
<circle cx="452.25" cy="297.09" r="1.15" fill="#c41e3a"/>
<circle cx="451.45" cy="292.81" r="1.15" fill="#c41e3a"/>
<line x1="449.60" y1="348.50" x2="449.60" y2="350.70" stroke="#1c1c1c" stroke-width="0.9"/>
<rect x="459.30" y="336.36" width="4.50" height="12.14" fill="#8b9bc6"/>
<line x1="461.55" y1="338.50" x2="461.55" y2="335.65" stroke="#1f4f8b" stroke-width="0.9"/>
<line x1="460.05" y1="335.65" x2="463.05" y2="335.65" stroke="#1f4f8b" stroke-width="0.9"/>
<line x1="460.05" y1="338.50" x2="463.05" y2="338.50" stroke="#1f4f8b" stroke-width="0.9"/>
<circle cx="459.95" cy="337.79" r="1.15" fill="#1f4f8b"/>
<circle cx="463.15" cy="336.36" r="1.15" fill="#1f4f8b"/>
<rect x="465.00" y="335.65" width="4.70" height="12.85" fill="#e8877d"/>
<line x1="467.35" y1="341.36" x2="467.35" y2="334.93" stroke="#c41e3a" stroke-width="0.9"/>
<line x1="465.85" y1="334.93" x2="468.85" y2="334.93" stroke="#c41e3a" stroke-width="0.9"/>
<line x1="465.85" y1="341.36" x2="468.85" y2="341.36" stroke="#c41e3a" stroke-width="0.9"/>
<circle cx="465.75" cy="339.93" r="1.15" fill="#c41e3a"/>
<circle cx="468.95" cy="337.08" r="1.15" fill="#c41e3a"/>
<circle cx="467.35" cy="335.65" r="1.15" fill="#c41e3a"/>
<line x1="464.70" y1="348.50" x2="464.70" y2="350.70" stroke="#1c1c1c" stroke-width="0.9"/>
<rect x="474.20" y="341.57" width="4.50" height="6.93" fill="#8b9bc6"/>
<line x1="476.45" y1="343.50" x2="476.45" y2="341.36" stroke="#1f4f8b" stroke-width="0.9"/>
<line x1="474.95" y1="341.36" x2="477.95" y2="341.36" stroke="#1f4f8b" stroke-width="0.9"/>
<line x1="474.95" y1="343.50" x2="477.95" y2="343.50" stroke="#1f4f8b" stroke-width="0.9"/>
<circle cx="474.85" cy="343.14" r="1.15" fill="#1f4f8b"/>
<circle cx="478.05" cy="342.07" r="1.15" fill="#1f4f8b"/>
<rect x="479.90" y="344.22" width="4.70" height="4.28" fill="#e8877d"/>
<line x1="482.25" y1="344.93" x2="482.25" y2="343.86" stroke="#c41e3a" stroke-width="0.9"/>
<line x1="480.75" y1="343.86" x2="483.75" y2="343.86" stroke="#c41e3a" stroke-width="0.9"/>
<line x1="480.75" y1="344.93" x2="483.75" y2="344.93" stroke="#c41e3a" stroke-width="0.9"/>
<circle cx="480.65" cy="344.57" r="1.15" fill="#c41e3a"/>
<line x1="479.60" y1="348.50" x2="479.60" y2="350.70" stroke="#1c1c1c" stroke-width="0.9"/>
<rect x="489.50" y="338.72" width="4.50" height="9.78" fill="#8b9bc6"/>
<line x1="491.75" y1="341.36" x2="491.75" y2="337.79" stroke="#1f4f8b" stroke-width="0.9"/>
<line x1="490.25" y1="337.79" x2="493.25" y2="337.79" stroke="#1f4f8b" stroke-width="0.9"/>
<line x1="490.25" y1="341.36" x2="493.25" y2="341.36" stroke="#1f4f8b" stroke-width="0.9"/>
<circle cx="490.15" cy="340.65" r="1.15" fill="#1f4f8b"/>
<circle cx="493.35" cy="339.22" r="1.15" fill="#1f4f8b"/>
<rect x="495.20" y="344.22" width="4.70" height="4.28" fill="#e8877d"/>
<line x1="497.55" y1="344.93" x2="497.55" y2="343.86" stroke="#c41e3a" stroke-width="0.9"/>
<line x1="496.05" y1="343.86" x2="499.05" y2="343.86" stroke="#c41e3a" stroke-width="0.9"/>
<line x1="496.05" y1="344.93" x2="499.05" y2="344.93" stroke="#c41e3a" stroke-width="0.9"/>
<circle cx="495.95" cy="344.57" r="1.15" fill="#c41e3a"/>
<line x1="494.90" y1="348.50" x2="494.90" y2="350.70" stroke="#1c1c1c" stroke-width="0.9"/>
<line x1="411.40" y1="348.50" x2="501.50" y2="348.50" stroke="#1c1c1c" stroke-width="1.25"/>
<circle cx="422.00" cy="296.60" r="0.9" fill="#333"/>
<circle cx="450.10" cy="286.80" r="0.9" fill="#333"/>
<circle cx="452.70" cy="286.80" r="0.9" fill="#333"/>
<circle cx="455.30" cy="286.80" r="0.9" fill="#333"/>
<circle cx="481.10" cy="341.30" r="0.9" fill="#333"/>
<circle cx="483.70" cy="341.30" r="0.9" fill="#333"/>
<circle cx="495.90" cy="340.70" r="0.9" fill="#333"/>
<circle cx="498.50" cy="340.70" r="0.9" fill="#333"/>
<circle cx="501.10" cy="340.70" r="0.9" fill="#333"/>
<circle cx="416.60" cy="277.20" r="0.85" fill="#1d3a62"/>
<text x="420.80" y="279.58" font-size="6.6" fill="#333333" stroke="#333333" stroke-width="0.11">fl/fl</text>
<circle cx="416.60" cy="285.00" r="0.85" fill="#7a1a2c"/>
<text x="420.80" y="287.38" font-size="6.6" fill="#333333" stroke="#333333" stroke-width="0.11">Δ/Δ</text>
<text x="422.50" y="358.60" font-size="6.6" fill="#333333" stroke="#333333" stroke-width="0.22" text-anchor="end" transform="rotate(-45 422.50 358.60) translate(422.50 0) scale(0.9 1) translate(-422.50 0)">GMP</text>
<text x="437.20" y="358.60" font-size="6.6" fill="#333333" stroke="#333333" stroke-width="0.22" text-anchor="end" transform="rotate(-45 437.20 358.60) translate(437.20 0) scale(0.9 1) translate(-437.20 0)">MKP</text>
<text x="452.60" y="358.60" font-size="6.6" fill="#333333" stroke="#333333" stroke-width="0.22" text-anchor="end" transform="rotate(-45 452.60 358.60) translate(452.60 0) scale(0.9 1) translate(-452.60 0)">PreGM</text>
<text x="467.70" y="358.60" font-size="6.6" fill="#333333" stroke="#333333" stroke-width="0.22" text-anchor="end" transform="rotate(-45 467.70 358.60) translate(467.70 0) scale(0.9 1) translate(-467.70 0)">PreMegE</text>
<text x="482.60" y="358.60" font-size="6.6" fill="#333333" stroke="#333333" stroke-width="0.22" text-anchor="end" transform="rotate(-45 482.60 358.60) translate(482.60 0) scale(0.9 1) translate(-482.60 0)">PreCFU-E</text>
<text x="497.90" y="358.60" font-size="6.6" fill="#333333" stroke="#333333" stroke-width="0.22" text-anchor="end" transform="rotate(-45 497.90 358.60) translate(497.90 0) scale(0.9 1) translate(-497.90 0)">CFU-E</text>
<text x="392.69" y="307.90" font-size="8.3" fill="#333333" stroke="#333333" stroke-width="0.22" text-anchor="middle" textLength="65" lengthAdjust="spacingAndGlyphs" transform="rotate(-90 392.69 307.90)">% of donor-derived cells</text>
<line x1="49.40" y1="410.60" x2="49.40" y2="481.90" stroke="#1c1c1c" stroke-width="1.15"/>
<line x1="46.60" y1="481.40" x2="49.40" y2="481.40" stroke="#1c1c1c" stroke-width="0.9"/>
<text x="43.10" y="484.06" font-size="7.4" fill="#333333" stroke="#333333" stroke-width="0.22" text-anchor="end" transform="translate(43.10 0) scale(0.9 1) translate(-43.10 0)">0</text>
<line x1="46.60" y1="467.78" x2="49.40" y2="467.78" stroke="#1c1c1c" stroke-width="0.9"/>
<text x="43.10" y="470.44" font-size="7.4" fill="#333333" stroke="#333333" stroke-width="0.22" text-anchor="end" transform="translate(43.10 0) scale(0.9 1) translate(-43.10 0)">20</text>
<line x1="46.60" y1="454.16" x2="49.40" y2="454.16" stroke="#1c1c1c" stroke-width="0.9"/>
<text x="43.10" y="456.82" font-size="7.4" fill="#333333" stroke="#333333" stroke-width="0.22" text-anchor="end" transform="translate(43.10 0) scale(0.9 1) translate(-43.10 0)">40</text>
<line x1="46.60" y1="440.54" x2="49.40" y2="440.54" stroke="#1c1c1c" stroke-width="0.9"/>
<text x="43.10" y="443.20" font-size="7.4" fill="#333333" stroke="#333333" stroke-width="0.22" text-anchor="end" transform="translate(43.10 0) scale(0.9 1) translate(-43.10 0)">60</text>
<line x1="46.60" y1="426.92" x2="49.40" y2="426.92" stroke="#1c1c1c" stroke-width="0.9"/>
<text x="43.10" y="429.58" font-size="7.4" fill="#333333" stroke="#333333" stroke-width="0.22" text-anchor="end" transform="translate(43.10 0) scale(0.9 1) translate(-43.10 0)">80</text>
<line x1="46.60" y1="413.30" x2="49.40" y2="413.30" stroke="#1c1c1c" stroke-width="0.9"/>
<text x="43.10" y="415.96" font-size="7.4" fill="#333333" stroke="#333333" stroke-width="0.22" text-anchor="end" transform="translate(43.10 0) scale(0.9 1) translate(-43.10 0)">100</text>
<line x1="48.90" y1="481.40" x2="135.00" y2="481.40" stroke="#1c1c1c" stroke-width="1.25"/>
<line x1="61.40" y1="481.40" x2="61.40" y2="483.60" stroke="#1c1c1c" stroke-width="0.9"/>
<text x="61.40" y="493.10" font-size="7.2" fill="#333333" stroke="#333333" stroke-width="0.22" text-anchor="middle">1</text>
<line x1="61.40" y1="436.05" x2="61.40" y2="431.96" stroke="#1f4f8b" stroke-width="0.8"/>
<line x1="60.20" y1="431.96" x2="62.60" y2="431.96" stroke="#1f4f8b" stroke-width="0.8"/>
<line x1="60.20" y1="436.05" x2="62.60" y2="436.05" stroke="#1f4f8b" stroke-width="0.8"/>
<line x1="61.40" y1="481.06" x2="61.40" y2="478.34" stroke="#c41e3a" stroke-width="0.8"/>
<line x1="60.20" y1="478.34" x2="62.60" y2="478.34" stroke="#c41e3a" stroke-width="0.8"/>
<line x1="60.20" y1="481.06" x2="62.60" y2="481.06" stroke="#c41e3a" stroke-width="0.8"/>
<circle cx="61.40" cy="479.15" r="1.0" fill="#c41e3a"/>
<line x1="84.70" y1="481.40" x2="84.70" y2="483.60" stroke="#1c1c1c" stroke-width="0.9"/>
<text x="84.70" y="493.10" font-size="7.2" fill="#333333" stroke="#333333" stroke-width="0.22" text-anchor="middle">2</text>
<line x1="84.70" y1="430.32" x2="84.70" y2="426.24" stroke="#1f4f8b" stroke-width="0.8"/>
<line x1="83.50" y1="426.24" x2="85.90" y2="426.24" stroke="#1f4f8b" stroke-width="0.8"/>
<line x1="83.50" y1="430.32" x2="85.90" y2="430.32" stroke="#1f4f8b" stroke-width="0.8"/>
<line x1="84.70" y1="481.06" x2="84.70" y2="475.95" stroke="#c41e3a" stroke-width="0.8"/>
<line x1="83.50" y1="475.95" x2="85.90" y2="475.95" stroke="#c41e3a" stroke-width="0.8"/>
<line x1="83.50" y1="481.06" x2="85.90" y2="481.06" stroke="#c41e3a" stroke-width="0.8"/>
<circle cx="84.70" cy="478.95" r="1.0" fill="#c41e3a"/>
<line x1="107.90" y1="481.40" x2="107.90" y2="483.60" stroke="#1c1c1c" stroke-width="0.9"/>
<text x="107.90" y="493.10" font-size="7.2" fill="#333333" stroke="#333333" stroke-width="0.22" text-anchor="middle">3</text>
<line x1="107.90" y1="426.44" x2="107.90" y2="422.36" stroke="#1f4f8b" stroke-width="0.8"/>
<line x1="106.70" y1="422.36" x2="109.10" y2="422.36" stroke="#1f4f8b" stroke-width="0.8"/>
<line x1="106.70" y1="426.44" x2="109.10" y2="426.44" stroke="#1f4f8b" stroke-width="0.8"/>
<line x1="107.90" y1="481.06" x2="107.90" y2="478.34" stroke="#c41e3a" stroke-width="0.8"/>
<line x1="106.70" y1="478.34" x2="109.10" y2="478.34" stroke="#c41e3a" stroke-width="0.8"/>
<line x1="106.70" y1="481.06" x2="109.10" y2="481.06" stroke="#c41e3a" stroke-width="0.8"/>
<circle cx="107.90" cy="478.74" r="1.0" fill="#c41e3a"/>
<line x1="131.10" y1="481.40" x2="131.10" y2="483.60" stroke="#1c1c1c" stroke-width="0.9"/>
<text x="131.10" y="493.10" font-size="7.2" fill="#333333" stroke="#333333" stroke-width="0.22" text-anchor="middle">4</text>
<line x1="131.10" y1="425.01" x2="131.10" y2="420.93" stroke="#1f4f8b" stroke-width="0.8"/>
<line x1="129.90" y1="420.93" x2="132.30" y2="420.93" stroke="#1f4f8b" stroke-width="0.8"/>
<line x1="129.90" y1="425.01" x2="132.30" y2="425.01" stroke="#1f4f8b" stroke-width="0.8"/>
<line x1="131.10" y1="481.06" x2="131.10" y2="476.29" stroke="#c41e3a" stroke-width="0.8"/>
<line x1="129.90" y1="476.29" x2="132.30" y2="476.29" stroke="#c41e3a" stroke-width="0.8"/>
<line x1="129.90" y1="481.06" x2="132.30" y2="481.06" stroke="#c41e3a" stroke-width="0.8"/>
<circle cx="131.10" cy="478.47" r="1.0" fill="#c41e3a"/>
<path d="M61.40 434.00 C69.17 432.10 69.20 431.48 84.70 428.28 C100.20 425.08 92.43 426.17 107.90 424.40 C123.37 422.63 123.37 423.45 131.10 422.97" fill="none" stroke="#1f4f8b" stroke-width="1.1"/>
<path d="M61.40 479.15 L84.70 478.95 L107.90 478.74 L131.10 478.47" fill="none" stroke="#ee9aaa" stroke-width="2.8"/>
<path d="M61.40 479.15 L84.70 478.95 L107.90 478.74 L131.10 478.47" fill="none" stroke="#c41e3a" stroke-width="0.8"/>
<circle cx="58.80" cy="474.00" r="0.9" fill="#333"/>
<circle cx="61.40" cy="474.00" r="0.9" fill="#333"/>
<circle cx="64.00" cy="474.00" r="0.9" fill="#333"/>
<circle cx="82.10" cy="472.30" r="0.9" fill="#333"/>
<circle cx="84.70" cy="472.30" r="0.9" fill="#333"/>
<circle cx="87.30" cy="472.30" r="0.9" fill="#333"/>
<circle cx="105.30" cy="474.00" r="0.9" fill="#333"/>
<circle cx="107.90" cy="474.00" r="0.9" fill="#333"/>
<circle cx="110.50" cy="474.00" r="0.9" fill="#333"/>
<circle cx="128.50" cy="472.30" r="0.9" fill="#333"/>
<circle cx="131.10" cy="472.30" r="0.9" fill="#333"/>
<circle cx="133.70" cy="472.30" r="0.9" fill="#333"/>
<line x1="53.50" y1="413.60" x2="60.30" y2="413.60" stroke="#1f4f8b" stroke-width="1.2"/>
<circle cx="56.90" cy="413.60" r="0.8" fill="#1f4f8b"/>
<text x="63.50" y="415.98" font-size="6.6" fill="#333333" stroke="#333333" stroke-width="0.11">fl/fl</text>
<line x1="53.50" y1="421.30" x2="60.30" y2="421.30" stroke="#c41e3a" stroke-width="1.2"/>
<circle cx="56.90" cy="421.30" r="0.9" fill="#c41e3a"/>
<text x="63.50" y="423.68" font-size="6.6" fill="#333333" stroke="#333333" stroke-width="0.11">Δ/Δ</text>
<text x="96.20" y="504.90" font-size="8.8" fill="#333333" stroke="#333333" stroke-width="0.22" text-anchor="middle" textLength="85" lengthAdjust="spacingAndGlyphs">Months after transplantation</text>
<text x="29.09" y="445.80" font-size="8.3" fill="#333333" stroke="#333333" stroke-width="0.22" text-anchor="middle" textLength="86" lengthAdjust="spacingAndGlyphs" transform="rotate(-90 29.09 445.80)">Donor-derived cells in PB (%)</text>
<text x="170.60" y="409.60" font-size="8.8" fill="#333333" stroke="#333333" stroke-width="0.22" textLength="16.5" lengthAdjust="spacingAndGlyphs">LKS</text>
<text x="187.60" y="405.00" font-size="5" fill="#333333" stroke="#333333" stroke-width="0.11">+</text>
<text x="204.50" y="420.50" font-size="6.4" fill="#333333" stroke="#333333" stroke-width="0.11" text-anchor="middle">fl/fl</text>
<text x="283.00" y="420.50" font-size="6.4" fill="#333333" stroke="#333333" stroke-width="0.11" text-anchor="middle">Δ/Δ</text>
<defs>
<radialGradient id="dishA" cx="50%" cy="50%" r="50%">
<stop offset="0" stop-color="#e5d8b2"/><stop offset="0.5" stop-color="#e7d3a2"/><stop offset="0.8" stop-color="#e9c886"/><stop offset="0.92" stop-color="#e3b96a"/><stop offset="0.96" stop-color="#c49344"/><stop offset="1" stop-color="#b58c40"/></radialGradient>
<radialGradient id="dishB" cx="50%" cy="50%" r="50%">
<stop offset="0" stop-color="#edbcac"/><stop offset="0.6" stop-color="#ebb3a2"/><stop offset="0.9" stop-color="#e6a694"/><stop offset="0.97" stop-color="#d39a88"/><stop offset="1" stop-color="#c89484"/></radialGradient>
<linearGradient id="bgA" x1="0" y1="0" x2="1" y2="1"><stop offset="0" stop-color="#ccd5d2"/><stop offset="1" stop-color="#bfcecb"/></linearGradient>
<linearGradient id="bgB" x1="0" y1="0" x2="1" y2="1"><stop offset="0" stop-color="#c9cecb"/><stop offset="1" stop-color="#c2ccca"/></linearGradient>
<filter id="blur1" x="-50%" y="-50%" width="200%" height="200%"><feGaussianBlur stdDeviation="1.6"/></filter>
<filter id="blur2" x="-50%" y="-50%" width="200%" height="200%"><feGaussianBlur stdDeviation="0.6"/></filter>
</defs>
<rect x="171.40" y="425.00" width="66.10" height="66.20" fill="url(#bgA)"/>
<circle cx="204.80" cy="458.60" r="30.2" fill="#d9e0dd" filter="url(#blur2)"/>
<circle cx="204.80" cy="458.80" r="28.4" fill="#bfcac6" filter="url(#blur2)"/>
<circle cx="204.60" cy="459.40" r="26.0" fill="url(#dishA)"/>
<path d="M188 452 Q204.5 441 221 452" stroke="#ec9f5c" stroke-width="4" fill="none" opacity="0.5" filter="url(#blur1)"/>
<ellipse cx="204" cy="474" rx="9" ry="3.6" fill="#b4ccd0" opacity="0.75" filter="url(#blur1)"/>
<rect x="249.00" y="425.00" width="66.30" height="66.20" fill="url(#bgB)"/>
<circle cx="284.00" cy="459.00" r="31.0" fill="#e0e4e2" filter="url(#blur2)"/>
<circle cx="284.30" cy="459.30" r="28.8" fill="#c6cbc9" filter="url(#blur2)"/>
<circle cx="284.50" cy="459.50" r="27.0" fill="url(#dishB)"/>
<ellipse cx="282" cy="460" rx="7" ry="20" fill="#f3c8b9" opacity="0.6" filter="url(#blur1)"/>
<rect x="281.80" y="425.70" width="4.60" height="5.50" fill="#e8ecea"/>
<line x1="356.10" y1="416.30" x2="356.10" y2="481.80" stroke="#1c1c1c" stroke-width="1.15"/>
<line x1="353.30" y1="481.30" x2="356.10" y2="481.30" stroke="#1c1c1c" stroke-width="0.9"/>
<text x="349.80" y="483.96" font-size="7.4" fill="#333333" stroke="#333333" stroke-width="0.22" text-anchor="end" transform="translate(349.80 0) scale(0.9 1) translate(-349.80 0)">0</text>
<line x1="353.30" y1="465.73" x2="356.10" y2="465.73" stroke="#1c1c1c" stroke-width="0.9"/>
<text x="349.80" y="468.39" font-size="7.4" fill="#333333" stroke="#333333" stroke-width="0.22" text-anchor="end" transform="translate(349.80 0) scale(0.9 1) translate(-349.80 0)">20</text>
<line x1="353.30" y1="450.15" x2="356.10" y2="450.15" stroke="#1c1c1c" stroke-width="0.9"/>
<text x="349.80" y="452.81" font-size="7.4" fill="#333333" stroke="#333333" stroke-width="0.22" text-anchor="end" transform="translate(349.80 0) scale(0.9 1) translate(-349.80 0)">40</text>
<line x1="353.30" y1="434.57" x2="356.10" y2="434.57" stroke="#1c1c1c" stroke-width="0.9"/>
<text x="349.80" y="437.24" font-size="7.4" fill="#333333" stroke="#333333" stroke-width="0.22" text-anchor="end" transform="translate(349.80 0) scale(0.9 1) translate(-349.80 0)">60</text>
<line x1="353.30" y1="419.00" x2="356.10" y2="419.00" stroke="#1c1c1c" stroke-width="0.9"/>
<text x="349.80" y="421.66" font-size="7.4" fill="#333333" stroke="#333333" stroke-width="0.22" text-anchor="end" transform="translate(349.80 0) scale(0.9 1) translate(-349.80 0)">80</text>
<rect x="361.20" y="437.38" width="8.60" height="43.92" fill="#8b9bc6"/>
<circle cx="363.90" cy="438.47" r="1.15" fill="#1f4f8b"/>
<circle cx="367.10" cy="436.91" r="1.15" fill="#1f4f8b"/>
<circle cx="365.50" cy="434.96" r="1.15" fill="#1f4f8b"/>
<line x1="365.50" y1="439.64" x2="365.50" y2="434.96" stroke="#1f4f8b" stroke-width="0.9"/>
<line x1="361.50" y1="434.96" x2="369.50" y2="434.96" stroke="#1f4f8b" stroke-width="0.9"/>
<line x1="361.50" y1="439.64" x2="369.50" y2="439.64" stroke="#1f4f8b" stroke-width="0.9"/>
<rect x="373.80" y="480.13" width="10.10" height="1.17" fill="#c41e3a"/>
<line x1="355.60" y1="481.30" x2="388.30" y2="481.30" stroke="#1c1c1c" stroke-width="1.25"/>
<line x1="365.50" y1="481.30" x2="365.50" y2="483.50" stroke="#1c1c1c" stroke-width="0.9"/>
<line x1="379.20" y1="481.30" x2="379.20" y2="483.50" stroke="#1c1c1c" stroke-width="0.9"/>
<circle cx="376.60" cy="474.90" r="0.9" fill="#333"/>
<circle cx="379.20" cy="474.90" r="0.9" fill="#333"/>
<circle cx="381.80" cy="474.90" r="0.9" fill="#333"/>
<text x="365.40" y="493.50" font-size="6.4" fill="#333333" stroke="#333333" stroke-width="0.11" text-anchor="middle">fl/fl</text>
<text x="379.00" y="493.50" font-size="6.4" fill="#333333" stroke="#333333" stroke-width="0.11" text-anchor="middle">Δ/Δ</text>
<text x="338.28" y="448.50" font-size="8.0" fill="#333333" stroke="#333333" stroke-width="0.22" text-anchor="middle" textLength="41.5" lengthAdjust="spacingAndGlyphs" transform="rotate(-90 338.28 448.50)">c.f.u. number</text>
</svg>
</body></html>
